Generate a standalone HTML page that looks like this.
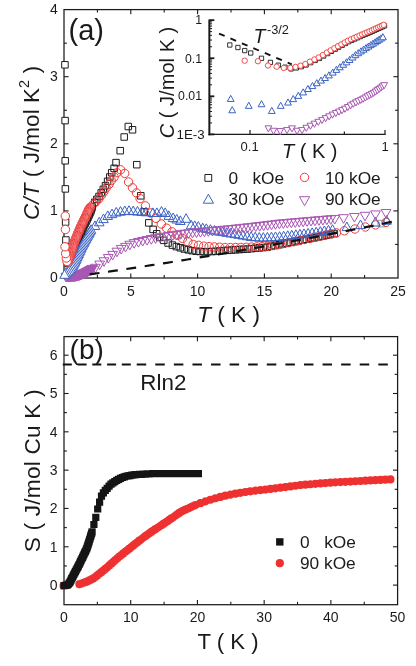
<!DOCTYPE html>
<html lang="en">
<head>
<meta charset="utf-8">
<title>Specific heat and entropy</title>
<style>
html,body{margin:0;padding:0;background:#fff;}
body{width:416px;height:666px;overflow:hidden;font-family:"Liberation Sans",Arial,sans-serif;}
svg{display:block;}
text{white-space:pre;}
</style>
</head>
<body>
<svg width="416" height="666" viewBox="0 0 416 666" font-family="'Liberation Sans', Arial, sans-serif">
<rect width="416" height="666" fill="#fff"/>
<rect x="64" y="9.6" width="334" height="268.4" fill="none" stroke="#1a1a1a" stroke-width="1.25"/>
<text x="64" y="295.5" font-size="14" text-anchor="middle" fill="#1a1a1a" >0</text>
<line x1="97.4" y1="278" x2="97.4" y2="275.1" stroke="#1a1a1a" stroke-width="1.1" />
<line x1="97.4" y1="9.6" x2="97.4" y2="12.5" stroke="#1a1a1a" stroke-width="1.1" />
<line x1="130.8" y1="278" x2="130.8" y2="273.4" stroke="#1a1a1a" stroke-width="1.1" />
<line x1="130.8" y1="9.6" x2="130.8" y2="14.2" stroke="#1a1a1a" stroke-width="1.1" />
<text x="130.8" y="295.5" font-size="14" text-anchor="middle" fill="#1a1a1a" >5</text>
<line x1="164.2" y1="278" x2="164.2" y2="275.1" stroke="#1a1a1a" stroke-width="1.1" />
<line x1="164.2" y1="9.6" x2="164.2" y2="12.5" stroke="#1a1a1a" stroke-width="1.1" />
<line x1="197.6" y1="278" x2="197.6" y2="273.4" stroke="#1a1a1a" stroke-width="1.1" />
<line x1="197.6" y1="9.6" x2="197.6" y2="14.2" stroke="#1a1a1a" stroke-width="1.1" />
<text x="197.6" y="295.5" font-size="14" text-anchor="middle" fill="#1a1a1a" >10</text>
<line x1="231" y1="278" x2="231" y2="275.1" stroke="#1a1a1a" stroke-width="1.1" />
<line x1="231" y1="9.6" x2="231" y2="12.5" stroke="#1a1a1a" stroke-width="1.1" />
<line x1="264.4" y1="278" x2="264.4" y2="273.4" stroke="#1a1a1a" stroke-width="1.1" />
<line x1="264.4" y1="9.6" x2="264.4" y2="14.2" stroke="#1a1a1a" stroke-width="1.1" />
<text x="264.4" y="295.5" font-size="14" text-anchor="middle" fill="#1a1a1a" >15</text>
<line x1="297.8" y1="278" x2="297.8" y2="275.1" stroke="#1a1a1a" stroke-width="1.1" />
<line x1="297.8" y1="9.6" x2="297.8" y2="12.5" stroke="#1a1a1a" stroke-width="1.1" />
<line x1="331.2" y1="278" x2="331.2" y2="273.4" stroke="#1a1a1a" stroke-width="1.1" />
<line x1="331.2" y1="9.6" x2="331.2" y2="14.2" stroke="#1a1a1a" stroke-width="1.1" />
<text x="331.2" y="295.5" font-size="14" text-anchor="middle" fill="#1a1a1a" >20</text>
<line x1="364.6" y1="278" x2="364.6" y2="275.1" stroke="#1a1a1a" stroke-width="1.1" />
<line x1="364.6" y1="9.6" x2="364.6" y2="12.5" stroke="#1a1a1a" stroke-width="1.1" />
<text x="398" y="295.5" font-size="14" text-anchor="middle" fill="#1a1a1a" >25</text>
<text x="57.8" y="282" font-size="14" text-anchor="end" fill="#1a1a1a" >0</text>
<line x1="64" y1="244.45" x2="66.9" y2="244.45" stroke="#1a1a1a" stroke-width="1.1" />
<line x1="398" y1="244.45" x2="395.1" y2="244.45" stroke="#1a1a1a" stroke-width="1.1" />
<line x1="64" y1="210.9" x2="68.6" y2="210.9" stroke="#1a1a1a" stroke-width="1.1" />
<line x1="398" y1="210.9" x2="393.4" y2="210.9" stroke="#1a1a1a" stroke-width="1.1" />
<text x="57.8" y="214.9" font-size="14" text-anchor="end" fill="#1a1a1a" >1</text>
<line x1="64" y1="177.35" x2="66.9" y2="177.35" stroke="#1a1a1a" stroke-width="1.1" />
<line x1="398" y1="177.35" x2="395.1" y2="177.35" stroke="#1a1a1a" stroke-width="1.1" />
<line x1="64" y1="143.8" x2="68.6" y2="143.8" stroke="#1a1a1a" stroke-width="1.1" />
<line x1="398" y1="143.8" x2="393.4" y2="143.8" stroke="#1a1a1a" stroke-width="1.1" />
<text x="57.8" y="147.8" font-size="14" text-anchor="end" fill="#1a1a1a" >2</text>
<line x1="64" y1="110.25" x2="66.9" y2="110.25" stroke="#1a1a1a" stroke-width="1.1" />
<line x1="398" y1="110.25" x2="395.1" y2="110.25" stroke="#1a1a1a" stroke-width="1.1" />
<line x1="64" y1="76.7" x2="68.6" y2="76.7" stroke="#1a1a1a" stroke-width="1.1" />
<line x1="398" y1="76.7" x2="393.4" y2="76.7" stroke="#1a1a1a" stroke-width="1.1" />
<text x="57.8" y="80.7" font-size="14" text-anchor="end" fill="#1a1a1a" >3</text>
<line x1="64" y1="43.15" x2="66.9" y2="43.15" stroke="#1a1a1a" stroke-width="1.1" />
<line x1="398" y1="43.15" x2="395.1" y2="43.15" stroke="#1a1a1a" stroke-width="1.1" />
<text x="57.8" y="13.6" font-size="14" text-anchor="end" fill="#1a1a1a" >4</text>
<line x1="209.35" y1="19.55" x2="209.35" y2="135.4" stroke="#1a1a1a" stroke-width="2.0" />
<line x1="208.35" y1="134.4" x2="385.6" y2="134.4" stroke="#1a1a1a" stroke-width="1.3" />
<line x1="209.35" y1="20.15" x2="214.35" y2="20.15" stroke="#1a1a1a" stroke-width="1.8" />
<line x1="209.35" y1="46.77" x2="212.05" y2="46.77" stroke="#1a1a1a" stroke-width="1.0" />
<line x1="209.35" y1="40.06" x2="212.05" y2="40.06" stroke="#1a1a1a" stroke-width="1.0" />
<line x1="209.35" y1="35.3" x2="212.05" y2="35.3" stroke="#1a1a1a" stroke-width="1.0" />
<line x1="209.35" y1="31.61" x2="212.05" y2="31.61" stroke="#1a1a1a" stroke-width="1.0" />
<line x1="209.35" y1="28.6" x2="212.05" y2="28.6" stroke="#1a1a1a" stroke-width="1.0" />
<line x1="209.35" y1="26.05" x2="212.05" y2="26.05" stroke="#1a1a1a" stroke-width="1.0" />
<line x1="209.35" y1="23.84" x2="212.05" y2="23.84" stroke="#1a1a1a" stroke-width="1.0" />
<line x1="209.35" y1="21.89" x2="212.05" y2="21.89" stroke="#1a1a1a" stroke-width="1.0" />
<line x1="209.35" y1="58.23" x2="214.35" y2="58.23" stroke="#1a1a1a" stroke-width="1.8" />
<line x1="209.35" y1="84.85" x2="212.05" y2="84.85" stroke="#1a1a1a" stroke-width="1.0" />
<line x1="209.35" y1="78.14" x2="212.05" y2="78.14" stroke="#1a1a1a" stroke-width="1.0" />
<line x1="209.35" y1="73.38" x2="212.05" y2="73.38" stroke="#1a1a1a" stroke-width="1.0" />
<line x1="209.35" y1="69.69" x2="212.05" y2="69.69" stroke="#1a1a1a" stroke-width="1.0" />
<line x1="209.35" y1="66.68" x2="212.05" y2="66.68" stroke="#1a1a1a" stroke-width="1.0" />
<line x1="209.35" y1="64.13" x2="212.05" y2="64.13" stroke="#1a1a1a" stroke-width="1.0" />
<line x1="209.35" y1="61.92" x2="212.05" y2="61.92" stroke="#1a1a1a" stroke-width="1.0" />
<line x1="209.35" y1="59.97" x2="212.05" y2="59.97" stroke="#1a1a1a" stroke-width="1.0" />
<line x1="209.35" y1="96.31" x2="214.35" y2="96.31" stroke="#1a1a1a" stroke-width="1.8" />
<line x1="209.35" y1="122.93" x2="212.05" y2="122.93" stroke="#1a1a1a" stroke-width="1.0" />
<line x1="209.35" y1="116.22" x2="212.05" y2="116.22" stroke="#1a1a1a" stroke-width="1.0" />
<line x1="209.35" y1="111.46" x2="212.05" y2="111.46" stroke="#1a1a1a" stroke-width="1.0" />
<line x1="209.35" y1="107.77" x2="212.05" y2="107.77" stroke="#1a1a1a" stroke-width="1.0" />
<line x1="209.35" y1="104.76" x2="212.05" y2="104.76" stroke="#1a1a1a" stroke-width="1.0" />
<line x1="209.35" y1="102.21" x2="212.05" y2="102.21" stroke="#1a1a1a" stroke-width="1.0" />
<line x1="209.35" y1="100" x2="212.05" y2="100" stroke="#1a1a1a" stroke-width="1.0" />
<line x1="209.35" y1="98.05" x2="212.05" y2="98.05" stroke="#1a1a1a" stroke-width="1.0" />
<line x1="209.35" y1="134.39" x2="214.35" y2="134.39" stroke="#1a1a1a" stroke-width="1.8" />
<line x1="250" y1="134.4" x2="250" y2="129.9" stroke="#1a1a1a" stroke-width="1.2" />
<line x1="385" y1="134.4" x2="385" y2="129.9" stroke="#1a1a1a" stroke-width="1.2" />
<line x1="344.36" y1="134.4" x2="344.36" y2="131.4" stroke="#1a1a1a" stroke-width="1.2" />
<path d="M91.45 199.05h6.5v6.5h-6.5zM93.55 196.15h6.5v6.5h-6.5zM95.75 193.25h6.5v6.5h-6.5zM97.95 189.65h6.5v6.5h-6.5zM100.05 186.05h6.5v6.5h-6.5zM102.25 182.45h6.5v6.5h-6.5zM104.35 178.05h6.5v6.5h-6.5zM106.55 173.75h6.5v6.5h-6.5zM108.45 169.45h6.5v6.5h-6.5zM110.85 165.05h6.5v6.5h-6.5zM112.75 159.35h6.5v6.5h-6.5zM116.95 147.45h6.5v6.5h-6.5zM120.95 133.75h6.5v6.5h-6.5zM125.05 123.25h6.5v6.5h-6.5zM129.25 126.55h6.5v6.5h-6.5zM133.55 161.45h6.5v6.5h-6.5zM137.55 192.55h6.5v6.5h-6.5zM141.05 208.55h6.5v6.5h-6.5zM145.55 219.65h6.5v6.5h-6.5zM149.85 226.15h6.5v6.5h-6.5zM153.45 230.55h6.5v6.5h-6.5zM156.35 234.15h6.5v6.5h-6.5zM160.55 237.1h6.5v6.5h-6.5zM164.85 239.77h6.5v6.5h-6.5zM169.15 241.83h6.5v6.5h-6.5zM173.1 243.36h6.5v6.5h-6.5zM177.05 244.54h6.5v6.5h-6.5zM181 245.72h6.5v6.5h-6.5zM184.95 246.59h6.5v6.5h-6.5zM188.9 247.38h6.5v6.5h-6.5zM192.85 248.02h6.5v6.5h-6.5zM196.8 248.25h6.5v6.5h-6.5zM200.75 248.49h6.5v6.5h-6.5zM204.7 248.43h6.5v6.5h-6.5zM208.65 248.27h6.5v6.5h-6.5zM212.6 248.08h6.5v6.5h-6.5zM216.55 247.73h6.5v6.5h-6.5zM220.5 247.39h6.5v6.5h-6.5zM224.45 247.07h6.5v6.5h-6.5zM228.4 246.81h6.5v6.5h-6.5zM232.35 246.55h6.5v6.5h-6.5zM236.3 246.29h6.5v6.5h-6.5zM240.25 246.03h6.5v6.5h-6.5zM244.2 245.77h6.5v6.5h-6.5zM248.15 245.4h6.5v6.5h-6.5zM252.1 245.04h6.5v6.5h-6.5zM256.05 244.67h6.5v6.5h-6.5zM260 244.3h6.5v6.5h-6.5zM263.95 243.91h6.5v6.5h-6.5zM267.9 243.12h6.5v6.5h-6.5zM271.85 242.33h6.5v6.5h-6.5zM275.8 241.54h6.5v6.5h-6.5zM279.75 240.75h6.5v6.5h-6.5zM283.7 239.96h6.5v6.5h-6.5zM287.65 239.17h6.5v6.5h-6.5zM291.6 238.38h6.5v6.5h-6.5zM295.55 237.59h6.5v6.5h-6.5zM299.5 236.8h6.5v6.5h-6.5zM303.45 236.01h6.5v6.5h-6.5zM307.4 235.22h6.5v6.5h-6.5zM311.35 234.41h6.5v6.5h-6.5zM315.3 233.61h6.5v6.5h-6.5zM319.25 232.8h6.5v6.5h-6.5zM323.2 232h6.5v6.5h-6.5zM327.15 231.19h6.5v6.5h-6.5zM331.1 230.39h6.5v6.5h-6.5z" fill="none" stroke="#1c1c1c" stroke-width="1.0"/>
<path d="M378.05 220.35h6.5v6.5h-6.5z" fill="none" stroke="#9a9a9a" stroke-width="1.0"/>
<path d="M89 204.4a4.2 4.2 0 1 0 8.4 0a4.2 4.2 0 1 0 -8.4 0zM91.9 201.5a4.2 4.2 0 1 0 8.4 0a4.2 4.2 0 1 0 -8.4 0zM94.8 198.6a4.2 4.2 0 1 0 8.4 0a4.2 4.2 0 1 0 -8.4 0zM97.4 195a4.2 4.2 0 1 0 8.4 0a4.2 4.2 0 1 0 -8.4 0zM99.8 191.4a4.2 4.2 0 1 0 8.4 0a4.2 4.2 0 1 0 -8.4 0zM102 187.8a4.2 4.2 0 1 0 8.4 0a4.2 4.2 0 1 0 -8.4 0zM104.9 184.2a4.2 4.2 0 1 0 8.4 0a4.2 4.2 0 1 0 -8.4 0zM107.05 180.6a4.2 4.2 0 1 0 8.4 0a4.2 4.2 0 1 0 -8.4 0zM109.9 177a4.2 4.2 0 1 0 8.4 0a4.2 4.2 0 1 0 -8.4 0zM112.8 172.7a4.2 4.2 0 1 0 8.4 0a4.2 4.2 0 1 0 -8.4 0zM116.4 169.8a4.2 4.2 0 1 0 8.4 0a4.2 4.2 0 1 0 -8.4 0zM120.5 173.4a4.2 4.2 0 1 0 8.4 0a4.2 4.2 0 1 0 -8.4 0zM124.4 182a4.2 4.2 0 1 0 8.4 0a4.2 4.2 0 1 0 -8.4 0zM128.3 187.8a4.2 4.2 0 1 0 8.4 0a4.2 4.2 0 1 0 -8.4 0zM132.3 192.9a4.2 4.2 0 1 0 8.4 0a4.2 4.2 0 1 0 -8.4 0zM135.9 198.6a4.2 4.2 0 1 0 8.4 0a4.2 4.2 0 1 0 -8.4 0zM141.2 205.87a4.2 4.2 0 1 0 8.4 0a4.2 4.2 0 1 0 -8.4 0zM146.51 212.91a4.2 4.2 0 1 0 8.4 0a4.2 4.2 0 1 0 -8.4 0zM151.81 218.31a4.2 4.2 0 1 0 8.4 0a4.2 4.2 0 1 0 -8.4 0zM157.12 224a4.2 4.2 0 1 0 8.4 0a4.2 4.2 0 1 0 -8.4 0zM162.42 228.22a4.2 4.2 0 1 0 8.4 0a4.2 4.2 0 1 0 -8.4 0zM167.73 231.88a4.2 4.2 0 1 0 8.4 0a4.2 4.2 0 1 0 -8.4 0zM173.03 235.32a4.2 4.2 0 1 0 8.4 0a4.2 4.2 0 1 0 -8.4 0zM178.34 238.44a4.2 4.2 0 1 0 8.4 0a4.2 4.2 0 1 0 -8.4 0zM183.64 241.7a4.2 4.2 0 1 0 8.4 0a4.2 4.2 0 1 0 -8.4 0zM188.95 244.42a4.2 4.2 0 1 0 8.4 0a4.2 4.2 0 1 0 -8.4 0zM194.25 245.31a4.2 4.2 0 1 0 8.4 0a4.2 4.2 0 1 0 -8.4 0zM199.56 246.19a4.2 4.2 0 1 0 8.4 0a4.2 4.2 0 1 0 -8.4 0zM204.86 246.63a4.2 4.2 0 1 0 8.4 0a4.2 4.2 0 1 0 -8.4 0zM210.17 246.92a4.2 4.2 0 1 0 8.4 0a4.2 4.2 0 1 0 -8.4 0zM215.47 247.22a4.2 4.2 0 1 0 8.4 0a4.2 4.2 0 1 0 -8.4 0zM220.78 247.51a4.2 4.2 0 1 0 8.4 0a4.2 4.2 0 1 0 -8.4 0zM226.08 247.56a4.2 4.2 0 1 0 8.4 0a4.2 4.2 0 1 0 -8.4 0zM231.39 247.5a4.2 4.2 0 1 0 8.4 0a4.2 4.2 0 1 0 -8.4 0zM236.69 247.44a4.2 4.2 0 1 0 8.4 0a4.2 4.2 0 1 0 -8.4 0zM242 247.35a4.2 4.2 0 1 0 8.4 0a4.2 4.2 0 1 0 -8.4 0zM247.3 247.1a4.2 4.2 0 1 0 8.4 0a4.2 4.2 0 1 0 -8.4 0zM252.61 246.86a4.2 4.2 0 1 0 8.4 0a4.2 4.2 0 1 0 -8.4 0zM257.91 246.62a4.2 4.2 0 1 0 8.4 0a4.2 4.2 0 1 0 -8.4 0zM263.22 246.33a4.2 4.2 0 1 0 8.4 0a4.2 4.2 0 1 0 -8.4 0zM268.52 245.41a4.2 4.2 0 1 0 8.4 0a4.2 4.2 0 1 0 -8.4 0zM273.83 244.48a4.2 4.2 0 1 0 8.4 0a4.2 4.2 0 1 0 -8.4 0zM279.13 243.56a4.2 4.2 0 1 0 8.4 0a4.2 4.2 0 1 0 -8.4 0zM284.44 242.64a4.2 4.2 0 1 0 8.4 0a4.2 4.2 0 1 0 -8.4 0zM289.74 241.61a4.2 4.2 0 1 0 8.4 0a4.2 4.2 0 1 0 -8.4 0zM295.05 240.55a4.2 4.2 0 1 0 8.4 0a4.2 4.2 0 1 0 -8.4 0zM300.35 239.49a4.2 4.2 0 1 0 8.4 0a4.2 4.2 0 1 0 -8.4 0zM305.66 238.43a4.2 4.2 0 1 0 8.4 0a4.2 4.2 0 1 0 -8.4 0zM310.96 237.31a4.2 4.2 0 1 0 8.4 0a4.2 4.2 0 1 0 -8.4 0zM316.27 236.19a4.2 4.2 0 1 0 8.4 0a4.2 4.2 0 1 0 -8.4 0zM321.57 235.07a4.2 4.2 0 1 0 8.4 0a4.2 4.2 0 1 0 -8.4 0zM326.88 233.95a4.2 4.2 0 1 0 8.4 0a4.2 4.2 0 1 0 -8.4 0zM332.18 232.83a4.2 4.2 0 1 0 8.4 0a4.2 4.2 0 1 0 -8.4 0zM340.1 230.8a4.2 4.2 0 1 0 8.4 0a4.2 4.2 0 1 0 -8.4 0zM350.7 229a4.2 4.2 0 1 0 8.4 0a4.2 4.2 0 1 0 -8.4 0zM361.2 227a4.2 4.2 0 1 0 8.4 0a4.2 4.2 0 1 0 -8.4 0zM371.3 224.9a4.2 4.2 0 1 0 8.4 0a4.2 4.2 0 1 0 -8.4 0zM381.8 222.4a4.2 4.2 0 1 0 8.4 0a4.2 4.2 0 1 0 -8.4 0z" fill="none" stroke="#ee3a3a" stroke-width="1.0"/>
<path d="M95 220.9l4.8 8.6h-9.6zM99.25 217.22l4.8 8.6h-9.6zM103.5 214.02l4.8 8.6h-9.6zM107.75 210.88l4.8 8.6h-9.6zM112 209.06l4.8 8.6h-9.6zM116.25 207.43l4.8 8.6h-9.6zM120.5 206.59l4.8 8.6h-9.6zM124.75 205.98l4.8 8.6h-9.6zM129 205.72l4.8 8.6h-9.6zM133.25 206.07l4.8 8.6h-9.6zM137.5 206.42l4.8 8.6h-9.6zM141.75 206.81l4.8 8.6h-9.6zM146 207.22l4.8 8.6h-9.6zM152.9 207.9l4.8 8.6h-9.6zM156.9 207.9l4.8 8.6h-9.6zM161.5 206.5l4.8 8.6h-9.6zM165.2 207.9l4.8 8.6h-9.6zM168.8 210.8l4.8 8.6h-9.6zM173.1 213l4.8 8.6h-9.6zM176.7 214.4l4.8 8.6h-9.6zM180.3 215.9l4.8 8.6h-9.6zM186.1 213.7l4.8 8.6h-9.6zM191.1 220.2l4.8 8.6h-9.6zM194.7 220.9l4.8 8.6h-9.6zM198.3 221.6l4.8 8.6h-9.6zM202.7 223.1l4.8 8.6h-9.6zM206.3 223.8l4.8 8.6h-9.6zM210.4 224.66l4.8 8.6h-9.6zM214.47 225.52l4.8 8.6h-9.6zM218.54 226.34l4.8 8.6h-9.6zM222.61 227.01l4.8 8.6h-9.6zM226.68 227.69l4.8 8.6h-9.6zM230.75 228.37l4.8 8.6h-9.6zM234.82 229.04l4.8 8.6h-9.6zM238.89 229.72l4.8 8.6h-9.6zM242.96 230.42l4.8 8.6h-9.6zM247.03 231.13l4.8 8.6h-9.6zM251.1 231.84l4.8 8.6h-9.6zM255.17 232.22l4.8 8.6h-9.6zM259.24 232.51l4.8 8.6h-9.6zM263.31 232.63l4.8 8.6h-9.6zM267.38 232.4l4.8 8.6h-9.6zM271.45 232.17l4.8 8.6h-9.6zM275.52 231.95l4.8 8.6h-9.6zM279.59 231.72l4.8 8.6h-9.6zM283.66 231.27l4.8 8.6h-9.6zM287.73 230.8l4.8 8.6h-9.6zM291.8 230.32l4.8 8.6h-9.6zM295.87 229.85l4.8 8.6h-9.6zM299.94 229.37l4.8 8.6h-9.6zM304.01 228.9l4.8 8.6h-9.6zM308.08 228.42l4.8 8.6h-9.6zM312.15 227.87l4.8 8.6h-9.6zM316.22 227.24l4.8 8.6h-9.6zM320.29 226.61l4.8 8.6h-9.6zM324.36 225.98l4.8 8.6h-9.6zM328.43 225.35l4.8 8.6h-9.6zM332.5 224.72l4.8 8.6h-9.6zM346.8 222l4.8 8.6h-9.6zM360.5 220l4.8 8.6h-9.6zM375.4 217.4l4.8 8.6h-9.6zM386.6 215.6l4.8 8.6h-9.6z" fill="none" stroke="#3b62c4" stroke-width="1.0" stroke-linejoin="miter"/>
<path d="M95.4 272.9l-4.9 -8.6h9.8zM99.7 269.64l-4.9 -8.6h9.8zM104 266.38l-4.9 -8.6h9.8zM108.3 263.14l-4.9 -8.6h9.8zM112.6 259.96l-4.9 -8.6h9.8zM116.9 256.79l-4.9 -8.6h9.8zM121.2 254.03l-4.9 -8.6h9.8zM125.5 251.94l-4.9 -8.6h9.8zM129.8 249.86l-4.9 -8.6h9.8zM134.1 248.22l-4.9 -8.6h9.8zM138.4 247.14l-4.9 -8.6h9.8zM142.7 246.05l-4.9 -8.6h9.8zM147 245.08l-4.9 -8.6h9.8zM151.3 244.22l-4.9 -8.6h9.8zM155.6 243.36l-4.9 -8.6h9.8zM159.9 242.53l-4.9 -8.6h9.8zM164.2 241.8l-4.9 -8.6h9.8zM168.5 241.07l-4.9 -8.6h9.8zM172.8 240.33l-4.9 -8.6h9.8zM176.75 239.82l-4.9 -8.6h9.8zM180.7 239.3l-4.9 -8.6h9.8zM184.65 238.79l-4.9 -8.6h9.8zM188.6 238.31l-4.9 -8.6h9.8zM192.55 237.91l-4.9 -8.6h9.8zM196.5 237.5l-4.9 -8.6h9.8zM200.45 237.12l-4.9 -8.6h9.8zM204.4 236.75l-4.9 -8.6h9.8zM208.35 236.38l-4.9 -8.6h9.8zM212.3 236.02l-4.9 -8.6h9.8zM216.25 235.65l-4.9 -8.6h9.8zM220.2 235.28l-4.9 -8.6h9.8zM224.15 234.89l-4.9 -8.6h9.8zM228.1 234.49l-4.9 -8.6h9.8zM232.05 234.1l-4.9 -8.6h9.8zM236 233.7l-4.9 -8.6h9.8zM239.95 233.31l-4.9 -8.6h9.8zM243.9 232.87l-4.9 -8.6h9.8zM247.85 232.44l-4.9 -8.6h9.8zM251.8 232l-4.9 -8.6h9.8zM255.75 231.57l-4.9 -8.6h9.8zM259.7 231.13l-4.9 -8.6h9.8zM263.65 230.66l-4.9 -8.6h9.8zM267.6 230.19l-4.9 -8.6h9.8zM271.55 229.71l-4.9 -8.6h9.8zM275.5 229.24l-4.9 -8.6h9.8zM279.45 228.77l-4.9 -8.6h9.8zM283.4 228.41l-4.9 -8.6h9.8zM287.35 228.06l-4.9 -8.6h9.8zM291.3 227.72l-4.9 -8.6h9.8zM295.25 227.38l-4.9 -8.6h9.8zM299.2 227.04l-4.9 -8.6h9.8zM303.15 226.69l-4.9 -8.6h9.8zM307.1 226.35l-4.9 -8.6h9.8zM311.05 226.01l-4.9 -8.6h9.8zM315 225.68l-4.9 -8.6h9.8zM318.95 225.36l-4.9 -8.6h9.8zM322.9 225.03l-4.9 -8.6h9.8zM326.85 224.7l-4.9 -8.6h9.8zM330.8 224.37l-4.9 -8.6h9.8zM334.75 224.05l-4.9 -8.6h9.8zM343.5 223.3l-4.9 -8.6h9.8zM354.4 222.1l-4.9 -8.6h9.8zM365 220.9l-4.9 -8.6h9.8zM375.5 219.5l-4.9 -8.6h9.8zM386 218.1l-4.9 -8.6h9.8z" fill="none" stroke="#a956b4" stroke-width="1.0" stroke-linejoin="miter"/>
<path d="M88.87 203.7h6.5v6.5h-6.5z" fill="#fff" stroke="#1c1c1c" stroke-width="1.0"/>
<path d="M88.36 205.22h6.5v6.5h-6.5z" fill="#fff" stroke="#1c1c1c" stroke-width="1.0"/>
<path d="M87.86 206.73h6.5v6.5h-6.5z" fill="#fff" stroke="#1c1c1c" stroke-width="1.0"/>
<path d="M87.35 208.25h6.5v6.5h-6.5z" fill="#fff" stroke="#1c1c1c" stroke-width="1.0"/>
<path d="M86.69 209.71h6.5v6.5h-6.5z" fill="#fff" stroke="#1c1c1c" stroke-width="1.0"/>
<path d="M86.03 211.17h6.5v6.5h-6.5z" fill="#fff" stroke="#1c1c1c" stroke-width="1.0"/>
<path d="M85.37 212.62h6.5v6.5h-6.5z" fill="#fff" stroke="#1c1c1c" stroke-width="1.0"/>
<path d="M84.71 214.08h6.5v6.5h-6.5z" fill="#fff" stroke="#1c1c1c" stroke-width="1.0"/>
<path d="M84.05 215.54h6.5v6.5h-6.5z" fill="#fff" stroke="#1c1c1c" stroke-width="1.0"/>
<path d="M83.35 216.98h6.5v6.5h-6.5z" fill="#fff" stroke="#1c1c1c" stroke-width="1.0"/>
<path d="M82.64 218.41h6.5v6.5h-6.5z" fill="#fff" stroke="#1c1c1c" stroke-width="1.0"/>
<path d="M81.93 219.85h6.5v6.5h-6.5z" fill="#fff" stroke="#1c1c1c" stroke-width="1.0"/>
<path d="M81.22 221.28h6.5v6.5h-6.5z" fill="#fff" stroke="#1c1c1c" stroke-width="1.0"/>
<path d="M80.51 222.72h6.5v6.5h-6.5z" fill="#fff" stroke="#1c1c1c" stroke-width="1.0"/>
<path d="M79.85 224.17h6.5v6.5h-6.5z" fill="#fff" stroke="#1c1c1c" stroke-width="1.0"/>
<path d="M79.2 225.63h6.5v6.5h-6.5z" fill="#fff" stroke="#1c1c1c" stroke-width="1.0"/>
<path d="M78.56 227.1h6.5v6.5h-6.5z" fill="#fff" stroke="#1c1c1c" stroke-width="1.0"/>
<path d="M77.91 228.56h6.5v6.5h-6.5z" fill="#fff" stroke="#1c1c1c" stroke-width="1.0"/>
<path d="M77.27 230.03h6.5v6.5h-6.5z" fill="#fff" stroke="#1c1c1c" stroke-width="1.0"/>
<path d="M76.65 231.5h6.5v6.5h-6.5z" fill="#fff" stroke="#1c1c1c" stroke-width="1.0"/>
<path d="M76.06 232.99h6.5v6.5h-6.5z" fill="#fff" stroke="#1c1c1c" stroke-width="1.0"/>
<path d="M75.46 234.47h6.5v6.5h-6.5z" fill="#fff" stroke="#1c1c1c" stroke-width="1.0"/>
<path d="M74.87 235.96h6.5v6.5h-6.5z" fill="#fff" stroke="#1c1c1c" stroke-width="1.0"/>
<path d="M74.27 237.44h6.5v6.5h-6.5z" fill="#fff" stroke="#1c1c1c" stroke-width="1.0"/>
<path d="M73.71 238.94h6.5v6.5h-6.5z" fill="#fff" stroke="#1c1c1c" stroke-width="1.0"/>
<path d="M73.19 240.45h6.5v6.5h-6.5z" fill="#fff" stroke="#1c1c1c" stroke-width="1.0"/>
<path d="M72.66 241.97h6.5v6.5h-6.5z" fill="#fff" stroke="#1c1c1c" stroke-width="1.0"/>
<path d="M72.14 243.48h6.5v6.5h-6.5z" fill="#fff" stroke="#1c1c1c" stroke-width="1.0"/>
<path d="M71.61 244.99h6.5v6.5h-6.5z" fill="#fff" stroke="#1c1c1c" stroke-width="1.0"/>
<path d="M71.12 246.51h6.5v6.5h-6.5z" fill="#fff" stroke="#1c1c1c" stroke-width="1.0"/>
<path d="M70.65 248.04h6.5v6.5h-6.5z" fill="#fff" stroke="#1c1c1c" stroke-width="1.0"/>
<path d="M70.18 249.57h6.5v6.5h-6.5z" fill="#fff" stroke="#1c1c1c" stroke-width="1.0"/>
<path d="M69.71 251.1h6.5v6.5h-6.5z" fill="#fff" stroke="#1c1c1c" stroke-width="1.0"/>
<path d="M69.24 252.63h6.5v6.5h-6.5z" fill="#fff" stroke="#1c1c1c" stroke-width="1.0"/>
<path d="M68.79 254.16h6.5v6.5h-6.5z" fill="#fff" stroke="#1c1c1c" stroke-width="1.0"/>
<path d="M68.34 255.7h6.5v6.5h-6.5z" fill="#fff" stroke="#1c1c1c" stroke-width="1.0"/>
<path d="M67.9 257.24h6.5v6.5h-6.5z" fill="#fff" stroke="#1c1c1c" stroke-width="1.0"/>
<path d="M67.23 258.68h6.5v6.5h-6.5z" fill="#fff" stroke="#1c1c1c" stroke-width="1.0"/>
<path d="M66.45 260.08h6.5v6.5h-6.5z" fill="#fff" stroke="#1c1c1c" stroke-width="1.0"/>
<path d="M64.95 260.25h6.5v6.5h-6.5z" fill="#fff" stroke="#1c1c1c" stroke-width="1.0"/>
<path d="M63.45 254.75h6.5v6.5h-6.5z" fill="#fff" stroke="#1c1c1c" stroke-width="1.0"/>
<path d="M62.95 247.75h6.5v6.5h-6.5z" fill="#fff" stroke="#1c1c1c" stroke-width="1.0"/>
<path d="M62.65 236.75h6.5v6.5h-6.5z" fill="#fff" stroke="#1c1c1c" stroke-width="1.0"/>
<path d="M62.35 218.75h6.5v6.5h-6.5z" fill="#fff" stroke="#1c1c1c" stroke-width="1.0"/>
<path d="M62.1 185.65h6.5v6.5h-6.5z" fill="#fff" stroke="#1c1c1c" stroke-width="1.0"/>
<path d="M61.95 157.55h6.5v6.5h-6.5z" fill="#fff" stroke="#1c1c1c" stroke-width="1.0"/>
<path d="M61.85 117.35h6.5v6.5h-6.5z" fill="#fff" stroke="#1c1c1c" stroke-width="1.0"/>
<path d="M61.7 61.55h6.5v6.5h-6.5z" fill="#fff" stroke="#1c1c1c" stroke-width="1.0"/>
<path d="M92.33 274l-4.9 -8.6h9.8zM91.64 274.39l-4.9 -8.6h9.8zM90.94 274.79l-4.9 -8.6h9.8zM90.25 275.19l-4.9 -8.6h9.8zM89.55 275.58l-4.9 -8.6h9.8zM88.86 275.97l-4.9 -8.6h9.8zM88.15 276.34l-4.9 -8.6h9.8zM87.44 276.71l-4.9 -8.6h9.8zM86.73 277.08l-4.9 -8.6h9.8zM86.02 277.45l-4.9 -8.6h9.8zM85.31 277.82l-4.9 -8.6h9.8zM84.6 278.19l-4.9 -8.6h9.8zM83.88 278.55l-4.9 -8.6h9.8zM83.14 278.84l-4.9 -8.6h9.8zM82.4 279.14l-4.9 -8.6h9.8zM81.65 279.44l-4.9 -8.6h9.8zM80.91 279.74l-4.9 -8.6h9.8zM80.17 280.03l-4.9 -8.6h9.8zM79.43 280.33l-4.9 -8.6h9.8zM78.67 280.58l-4.9 -8.6h9.8zM77.89 280.77l-4.9 -8.6h9.8zM77.11 280.95l-4.9 -8.6h9.8zM76.33 281.14l-4.9 -8.6h9.8zM75.56 281.32l-4.9 -8.6h9.8zM74.78 281.51l-4.9 -8.6h9.8zM73.99 281.63l-4.9 -8.6h9.8zM73.19 281.68l-4.9 -8.6h9.8zM72.39 281.74l-4.9 -8.6h9.8zM71.6 281.79l-4.9 -8.6h9.8zM70.8 281.85l-4.9 -8.6h9.8zM70 281.9l-4.9 -8.6h9.8zM69.2 281.92l-4.9 -8.6h9.8zM68.4 281.94l-4.9 -8.6h9.8zM67.6 281.96l-4.9 -8.6h9.8zM66.8 281.98l-4.9 -8.6h9.8zM66 282l-4.9 -8.6h9.8z" fill="none" stroke="#a956b4" stroke-width="1.0" stroke-linejoin="miter"/>
<path d="M91.02 224.79l4.8 8.6h-9.6z" fill="#fff" stroke="#3b62c4" stroke-width="1.0"/>
<path d="M90.17 226.26l4.8 8.6h-9.6z" fill="#fff" stroke="#3b62c4" stroke-width="1.0"/>
<path d="M89.32 227.74l4.8 8.6h-9.6z" fill="#fff" stroke="#3b62c4" stroke-width="1.0"/>
<path d="M88.49 229.22l4.8 8.6h-9.6z" fill="#fff" stroke="#3b62c4" stroke-width="1.0"/>
<path d="M87.67 230.7l4.8 8.6h-9.6z" fill="#fff" stroke="#3b62c4" stroke-width="1.0"/>
<path d="M86.84 232.19l4.8 8.6h-9.6z" fill="#fff" stroke="#3b62c4" stroke-width="1.0"/>
<path d="M86.02 233.68l4.8 8.6h-9.6z" fill="#fff" stroke="#3b62c4" stroke-width="1.0"/>
<path d="M85.2 235.17l4.8 8.6h-9.6z" fill="#fff" stroke="#3b62c4" stroke-width="1.0"/>
<path d="M84.4 236.67l4.8 8.6h-9.6z" fill="#fff" stroke="#3b62c4" stroke-width="1.0"/>
<path d="M83.63 238.18l4.8 8.6h-9.6z" fill="#fff" stroke="#3b62c4" stroke-width="1.0"/>
<path d="M82.85 239.69l4.8 8.6h-9.6z" fill="#fff" stroke="#3b62c4" stroke-width="1.0"/>
<path d="M82.07 241.21l4.8 8.6h-9.6z" fill="#fff" stroke="#3b62c4" stroke-width="1.0"/>
<path d="M81.3 242.72l4.8 8.6h-9.6z" fill="#fff" stroke="#3b62c4" stroke-width="1.0"/>
<path d="M80.58 244.26l4.8 8.6h-9.6z" fill="#fff" stroke="#3b62c4" stroke-width="1.0"/>
<path d="M79.91 245.82l4.8 8.6h-9.6z" fill="#fff" stroke="#3b62c4" stroke-width="1.0"/>
<path d="M79.24 247.38l4.8 8.6h-9.6z" fill="#fff" stroke="#3b62c4" stroke-width="1.0"/>
<path d="M78.56 248.94l4.8 8.6h-9.6z" fill="#fff" stroke="#3b62c4" stroke-width="1.0"/>
<path d="M77.89 250.5l4.8 8.6h-9.6z" fill="#fff" stroke="#3b62c4" stroke-width="1.0"/>
<path d="M77.18 252.05l4.8 8.6h-9.6z" fill="#fff" stroke="#3b62c4" stroke-width="1.0"/>
<path d="M76.47 253.59l4.8 8.6h-9.6z" fill="#fff" stroke="#3b62c4" stroke-width="1.0"/>
<path d="M75.76 255.14l4.8 8.6h-9.6z" fill="#fff" stroke="#3b62c4" stroke-width="1.0"/>
<path d="M75.05 256.68l4.8 8.6h-9.6z" fill="#fff" stroke="#3b62c4" stroke-width="1.0"/>
<path d="M74.33 258.22l4.8 8.6h-9.6z" fill="#fff" stroke="#3b62c4" stroke-width="1.0"/>
<path d="M73.48 259.69l4.8 8.6h-9.6z" fill="#fff" stroke="#3b62c4" stroke-width="1.0"/>
<path d="M72.62 261.16l4.8 8.6h-9.6z" fill="#fff" stroke="#3b62c4" stroke-width="1.0"/>
<path d="M71.72 262.6l4.8 8.6h-9.6z" fill="#fff" stroke="#3b62c4" stroke-width="1.0"/>
<path d="M70.73 263.98l4.8 8.6h-9.6z" fill="#fff" stroke="#3b62c4" stroke-width="1.0"/>
<path d="M69.74 265.36l4.8 8.6h-9.6z" fill="#fff" stroke="#3b62c4" stroke-width="1.0"/>
<path d="M68.41 266.39l4.8 8.6h-9.6z" fill="#fff" stroke="#3b62c4" stroke-width="1.0"/>
<path d="M67 267.33l4.8 8.6h-9.6z" fill="#fff" stroke="#3b62c4" stroke-width="1.0"/>
<path d="M65.66 268.38l4.8 8.6h-9.6z" fill="#fff" stroke="#3b62c4" stroke-width="1.0"/>
<path d="M64.6 269.7l4.8 8.6h-9.6z" fill="#fff" stroke="#3b62c4" stroke-width="1.0"/>
<circle cx="90.28" cy="207.17" r="4.2" fill="#fff" stroke="#ee3a3a" stroke-width="1.0"/>
<circle cx="89.84" cy="207.9" r="4.2" fill="#fff" stroke="#ee3a3a" stroke-width="1.0"/>
<circle cx="89.41" cy="208.63" r="4.2" fill="#fff" stroke="#ee3a3a" stroke-width="1.0"/>
<circle cx="88.98" cy="209.36" r="4.2" fill="#fff" stroke="#ee3a3a" stroke-width="1.0"/>
<circle cx="88.55" cy="210.1" r="4.2" fill="#fff" stroke="#ee3a3a" stroke-width="1.0"/>
<circle cx="88.2" cy="210.88" r="4.2" fill="#fff" stroke="#ee3a3a" stroke-width="1.0"/>
<circle cx="87.85" cy="211.65" r="4.2" fill="#fff" stroke="#ee3a3a" stroke-width="1.0"/>
<circle cx="87.5" cy="212.42" r="4.2" fill="#fff" stroke="#ee3a3a" stroke-width="1.0"/>
<circle cx="87.15" cy="213.2" r="4.2" fill="#fff" stroke="#ee3a3a" stroke-width="1.0"/>
<circle cx="86.8" cy="213.97" r="4.2" fill="#fff" stroke="#ee3a3a" stroke-width="1.0"/>
<circle cx="86.45" cy="214.75" r="4.2" fill="#fff" stroke="#ee3a3a" stroke-width="1.0"/>
<circle cx="86.1" cy="215.52" r="4.2" fill="#fff" stroke="#ee3a3a" stroke-width="1.0"/>
<circle cx="85.75" cy="216.29" r="4.2" fill="#fff" stroke="#ee3a3a" stroke-width="1.0"/>
<circle cx="85.4" cy="217.07" r="4.2" fill="#fff" stroke="#ee3a3a" stroke-width="1.0"/>
<circle cx="85.03" cy="217.84" r="4.2" fill="#fff" stroke="#ee3a3a" stroke-width="1.0"/>
<circle cx="84.66" cy="218.6" r="4.2" fill="#fff" stroke="#ee3a3a" stroke-width="1.0"/>
<circle cx="84.28" cy="219.36" r="4.2" fill="#fff" stroke="#ee3a3a" stroke-width="1.0"/>
<circle cx="83.91" cy="220.12" r="4.2" fill="#fff" stroke="#ee3a3a" stroke-width="1.0"/>
<circle cx="83.53" cy="220.89" r="4.2" fill="#fff" stroke="#ee3a3a" stroke-width="1.0"/>
<circle cx="83.15" cy="221.65" r="4.2" fill="#fff" stroke="#ee3a3a" stroke-width="1.0"/>
<circle cx="82.78" cy="222.41" r="4.2" fill="#fff" stroke="#ee3a3a" stroke-width="1.0"/>
<circle cx="82.4" cy="223.17" r="4.2" fill="#fff" stroke="#ee3a3a" stroke-width="1.0"/>
<circle cx="82.02" cy="223.94" r="4.2" fill="#fff" stroke="#ee3a3a" stroke-width="1.0"/>
<circle cx="81.65" cy="224.7" r="4.2" fill="#fff" stroke="#ee3a3a" stroke-width="1.0"/>
<circle cx="81.29" cy="225.47" r="4.2" fill="#fff" stroke="#ee3a3a" stroke-width="1.0"/>
<circle cx="80.95" cy="226.25" r="4.2" fill="#fff" stroke="#ee3a3a" stroke-width="1.0"/>
<circle cx="80.61" cy="227.03" r="4.2" fill="#fff" stroke="#ee3a3a" stroke-width="1.0"/>
<circle cx="80.27" cy="227.8" r="4.2" fill="#fff" stroke="#ee3a3a" stroke-width="1.0"/>
<circle cx="79.92" cy="228.58" r="4.2" fill="#fff" stroke="#ee3a3a" stroke-width="1.0"/>
<circle cx="79.58" cy="229.36" r="4.2" fill="#fff" stroke="#ee3a3a" stroke-width="1.0"/>
<circle cx="79.24" cy="230.14" r="4.2" fill="#fff" stroke="#ee3a3a" stroke-width="1.0"/>
<circle cx="78.9" cy="230.92" r="4.2" fill="#fff" stroke="#ee3a3a" stroke-width="1.0"/>
<circle cx="78.55" cy="231.69" r="4.2" fill="#fff" stroke="#ee3a3a" stroke-width="1.0"/>
<circle cx="78.21" cy="232.47" r="4.2" fill="#fff" stroke="#ee3a3a" stroke-width="1.0"/>
<circle cx="77.9" cy="233.26" r="4.2" fill="#fff" stroke="#ee3a3a" stroke-width="1.0"/>
<circle cx="77.58" cy="234.05" r="4.2" fill="#fff" stroke="#ee3a3a" stroke-width="1.0"/>
<circle cx="77.26" cy="234.84" r="4.2" fill="#fff" stroke="#ee3a3a" stroke-width="1.0"/>
<circle cx="76.95" cy="235.63" r="4.2" fill="#fff" stroke="#ee3a3a" stroke-width="1.0"/>
<circle cx="76.63" cy="236.42" r="4.2" fill="#fff" stroke="#ee3a3a" stroke-width="1.0"/>
<circle cx="76.32" cy="237.21" r="4.2" fill="#fff" stroke="#ee3a3a" stroke-width="1.0"/>
<circle cx="76" cy="238" r="4.2" fill="#fff" stroke="#ee3a3a" stroke-width="1.0"/>
<circle cx="75.69" cy="238.79" r="4.2" fill="#fff" stroke="#ee3a3a" stroke-width="1.0"/>
<circle cx="75.37" cy="239.57" r="4.2" fill="#fff" stroke="#ee3a3a" stroke-width="1.0"/>
<circle cx="75.07" cy="240.37" r="4.2" fill="#fff" stroke="#ee3a3a" stroke-width="1.0"/>
<circle cx="74.79" cy="241.17" r="4.2" fill="#fff" stroke="#ee3a3a" stroke-width="1.0"/>
<circle cx="74.51" cy="241.98" r="4.2" fill="#fff" stroke="#ee3a3a" stroke-width="1.0"/>
<circle cx="74.24" cy="242.78" r="4.2" fill="#fff" stroke="#ee3a3a" stroke-width="1.0"/>
<circle cx="73.96" cy="243.58" r="4.2" fill="#fff" stroke="#ee3a3a" stroke-width="1.0"/>
<circle cx="73.68" cy="244.39" r="4.2" fill="#fff" stroke="#ee3a3a" stroke-width="1.0"/>
<circle cx="73.4" cy="245.19" r="4.2" fill="#fff" stroke="#ee3a3a" stroke-width="1.0"/>
<circle cx="73.12" cy="245.99" r="4.2" fill="#fff" stroke="#ee3a3a" stroke-width="1.0"/>
<circle cx="72.84" cy="246.8" r="4.2" fill="#fff" stroke="#ee3a3a" stroke-width="1.0"/>
<circle cx="72.57" cy="247.6" r="4.2" fill="#fff" stroke="#ee3a3a" stroke-width="1.0"/>
<circle cx="72.32" cy="248.41" r="4.2" fill="#fff" stroke="#ee3a3a" stroke-width="1.0"/>
<circle cx="72.07" cy="249.22" r="4.2" fill="#fff" stroke="#ee3a3a" stroke-width="1.0"/>
<circle cx="71.82" cy="250.04" r="4.2" fill="#fff" stroke="#ee3a3a" stroke-width="1.0"/>
<circle cx="71.57" cy="250.85" r="4.2" fill="#fff" stroke="#ee3a3a" stroke-width="1.0"/>
<circle cx="71.32" cy="251.66" r="4.2" fill="#fff" stroke="#ee3a3a" stroke-width="1.0"/>
<circle cx="71.07" cy="252.48" r="4.2" fill="#fff" stroke="#ee3a3a" stroke-width="1.0"/>
<circle cx="70.82" cy="253.29" r="4.2" fill="#fff" stroke="#ee3a3a" stroke-width="1.0"/>
<circle cx="70.58" cy="254.1" r="4.2" fill="#fff" stroke="#ee3a3a" stroke-width="1.0"/>
<circle cx="70.33" cy="254.91" r="4.2" fill="#fff" stroke="#ee3a3a" stroke-width="1.0"/>
<circle cx="70.08" cy="255.73" r="4.2" fill="#fff" stroke="#ee3a3a" stroke-width="1.0"/>
<circle cx="69.82" cy="256.54" r="4.2" fill="#fff" stroke="#ee3a3a" stroke-width="1.0"/>
<circle cx="69.57" cy="257.35" r="4.2" fill="#fff" stroke="#ee3a3a" stroke-width="1.0"/>
<circle cx="69.32" cy="258.16" r="4.2" fill="#fff" stroke="#ee3a3a" stroke-width="1.0"/>
<circle cx="69.07" cy="258.97" r="4.2" fill="#fff" stroke="#ee3a3a" stroke-width="1.0"/>
<circle cx="68.82" cy="259.79" r="4.2" fill="#fff" stroke="#ee3a3a" stroke-width="1.0"/>
<circle cx="68.54" cy="260.59" r="4.2" fill="#fff" stroke="#ee3a3a" stroke-width="1.0"/>
<circle cx="68.07" cy="261.29" r="4.2" fill="#fff" stroke="#ee3a3a" stroke-width="1.0"/>
<circle cx="67.6" cy="262" r="4.2" fill="#fff" stroke="#ee3a3a" stroke-width="1.0"/>
<circle cx="67" cy="261.5" r="4.2" fill="#fff" stroke="#ee3a3a" stroke-width="1.0"/>
<circle cx="66.3" cy="258" r="4.2" fill="#fff" stroke="#ee3a3a" stroke-width="1.0"/>
<circle cx="65.6" cy="253.6" r="4.2" fill="#fff" stroke="#ee3a3a" stroke-width="1.0"/>
<circle cx="65" cy="246.8" r="4.2" fill="#fff" stroke="#ee3a3a" stroke-width="1.0"/>
<circle cx="65.4" cy="229.5" r="4.2" fill="#fff" stroke="#ee3a3a" stroke-width="1.0"/>
<circle cx="65.3" cy="216" r="4.2" fill="#fff" stroke="#ee3a3a" stroke-width="1.0"/>
<path d="M89.65 274.42 L94.79 273.68 L99.93 272.94 L105.07 272.19 L110.21 271.44 L115.35 270.68 L120.49 269.91 L125.63 269.14 L130.77 268.37 L135.91 267.59 L141.05 266.8 L146.19 266.01 L151.33 265.21 L156.47 264.41 L161.61 263.6 L166.75 262.79 L171.89 261.97 L177.03 261.14 L182.17 260.31 L187.32 259.48 L192.46 258.64 L197.6 257.79 L202.74 256.94 L207.88 256.08 L213.02 255.22 L218.16 254.35 L223.3 253.48 L228.44 252.6 L233.58 251.72 L238.72 250.83 L243.86 249.93 L249 249.03 L254.14 248.13 L259.28 247.22 L264.42 246.3 L269.56 245.38 L274.7 244.45 L279.84 243.52 L284.98 242.58 L290.12 241.64 L295.26 240.69 L300.4 239.73 L305.54 238.77 L310.68 237.81 L315.82 236.84 L320.96 235.86 L326.1 234.88 L331.24 233.89 L336.38 232.9 L341.52 231.9 L346.66 230.9 L351.8 229.89 L356.94 228.88 L362.08 227.86 L367.22 226.83 L372.36 225.8 L377.5 224.77 L382.64 223.73 L387.78 222.68 L392.92 221.63" fill="none" stroke="#111" stroke-width="2.2" stroke-dasharray="9.9 8.65"/>
<path d="M227.65 42.85h4.3v4.3h-4.3z" fill="#fff" stroke="#1c1c1c" stroke-width="0.9"/>
<path d="M235.75 45.35h4.3v4.3h-4.3z" fill="#fff" stroke="#1c1c1c" stroke-width="0.9"/>
<path d="M242.55 48.45h4.3v4.3h-4.3z" fill="#fff" stroke="#1c1c1c" stroke-width="0.9"/>
<path d="M248.55 50.85h4.3v4.3h-4.3z" fill="#fff" stroke="#1c1c1c" stroke-width="0.9"/>
<path d="M259.35 56.15h4.3v4.3h-4.3z" fill="#fff" stroke="#1c1c1c" stroke-width="0.9"/>
<path d="M268.25 60.25h4.3v4.3h-4.3z" fill="#fff" stroke="#1c1c1c" stroke-width="0.9"/>
<path d="M276.15 63.05h4.3v4.3h-4.3z" fill="#fff" stroke="#1c1c1c" stroke-width="0.9"/>
<path d="M282.85 65.05h4.3v4.3h-4.3z" fill="#fff" stroke="#1c1c1c" stroke-width="0.9"/>
<path d="M288.95 66.75h4.3v4.3h-4.3z" fill="#fff" stroke="#1c1c1c" stroke-width="0.9"/>
<path d="M294.14 65.77h4.3v4.3h-4.3z" fill="#fff" stroke="#1c1c1c" stroke-width="0.9"/>
<path d="M299.14 64.55h4.3v4.3h-4.3z" fill="#fff" stroke="#1c1c1c" stroke-width="0.9"/>
<path d="M303.95 62.87h4.3v4.3h-4.3z" fill="#fff" stroke="#1c1c1c" stroke-width="0.9"/>
<path d="M308.59 60.51h4.3v4.3h-4.3z" fill="#fff" stroke="#1c1c1c" stroke-width="0.9"/>
<path d="M313.05 58.29h4.3v4.3h-4.3z" fill="#fff" stroke="#1c1c1c" stroke-width="0.9"/>
<path d="M317.35 56.28h4.3v4.3h-4.3z" fill="#fff" stroke="#1c1c1c" stroke-width="0.9"/>
<path d="M321.5 53.86h4.3v4.3h-4.3z" fill="#fff" stroke="#1c1c1c" stroke-width="0.9"/>
<path d="M325.49 51.43h4.3v4.3h-4.3z" fill="#fff" stroke="#1c1c1c" stroke-width="0.9"/>
<path d="M329.33 49.21h4.3v4.3h-4.3z" fill="#fff" stroke="#1c1c1c" stroke-width="0.9"/>
<path d="M333.03 47.08h4.3v4.3h-4.3z" fill="#fff" stroke="#1c1c1c" stroke-width="0.9"/>
<path d="M336.59 45.03h4.3v4.3h-4.3z" fill="#fff" stroke="#1c1c1c" stroke-width="0.9"/>
<path d="M340.03 43.15h4.3v4.3h-4.3z" fill="#fff" stroke="#1c1c1c" stroke-width="0.9"/>
<path d="M343.34 41.34h4.3v4.3h-4.3z" fill="#fff" stroke="#1c1c1c" stroke-width="0.9"/>
<path d="M346.52 39.59h4.3v4.3h-4.3z" fill="#fff" stroke="#1c1c1c" stroke-width="0.9"/>
<path d="M349.59 38.17h4.3v4.3h-4.3z" fill="#fff" stroke="#1c1c1c" stroke-width="0.9"/>
<path d="M352.54 36.86h4.3v4.3h-4.3z" fill="#fff" stroke="#1c1c1c" stroke-width="0.9"/>
<path d="M355.39 35.6h4.3v4.3h-4.3z" fill="#fff" stroke="#1c1c1c" stroke-width="0.9"/>
<path d="M358.13 34.39h4.3v4.3h-4.3z" fill="#fff" stroke="#1c1c1c" stroke-width="0.9"/>
<path d="M360.77 33.27h4.3v4.3h-4.3z" fill="#fff" stroke="#1c1c1c" stroke-width="0.9"/>
<path d="M363.31 32.19h4.3v4.3h-4.3z" fill="#fff" stroke="#1c1c1c" stroke-width="0.9"/>
<path d="M365.76 31.15h4.3v4.3h-4.3z" fill="#fff" stroke="#1c1c1c" stroke-width="0.9"/>
<path d="M368.12 30.15h4.3v4.3h-4.3z" fill="#fff" stroke="#1c1c1c" stroke-width="0.9"/>
<path d="M370.39 29.12h4.3v4.3h-4.3z" fill="#fff" stroke="#1c1c1c" stroke-width="0.9"/>
<path d="M372.58 28.12h4.3v4.3h-4.3z" fill="#fff" stroke="#1c1c1c" stroke-width="0.9"/>
<path d="M374.69 27.16h4.3v4.3h-4.3z" fill="#fff" stroke="#1c1c1c" stroke-width="0.9"/>
<path d="M376.72 26.24h4.3v4.3h-4.3z" fill="#fff" stroke="#1c1c1c" stroke-width="0.9"/>
<path d="M378.68 25.35h4.3v4.3h-4.3z" fill="#fff" stroke="#1c1c1c" stroke-width="0.9"/>
<path d="M380.56 24.49h4.3v4.3h-4.3z" fill="#fff" stroke="#1c1c1c" stroke-width="0.9"/>
<path d="M382.37 23.67h4.3v4.3h-4.3z" fill="#fff" stroke="#1c1c1c" stroke-width="0.9"/>
<path d="M268.4 131.95l-3.4 -6.1h6.8z" fill="#fff" stroke="#a956b4" stroke-width="1.0"/>
<path d="M273.5 134.35l-3.4 -6.1h6.8z" fill="#fff" stroke="#a956b4" stroke-width="1.0"/>
<path d="M280.2 134.65l-3.4 -6.1h6.8z" fill="#fff" stroke="#a956b4" stroke-width="1.0"/>
<path d="M287 133.65l-3.4 -6.1h6.8z" fill="#fff" stroke="#a956b4" stroke-width="1.0"/>
<path d="M292 131.95l-3.4 -6.1h6.8z" fill="#fff" stroke="#a956b4" stroke-width="1.0"/>
<path d="M297 134.35l-3.4 -6.1h6.8z" fill="#fff" stroke="#a956b4" stroke-width="1.0"/>
<path d="M302 133.65l-3.4 -6.1h6.8z" fill="#fff" stroke="#a956b4" stroke-width="1.0"/>
<path d="M306.28 131.38l-3.4 -6.1h6.8z" fill="#fff" stroke="#a956b4" stroke-width="1.0"/>
<path d="M310.42 129.29l-3.4 -6.1h6.8z" fill="#fff" stroke="#a956b4" stroke-width="1.0"/>
<path d="M314.43 127.29l-3.4 -6.1h6.8z" fill="#fff" stroke="#a956b4" stroke-width="1.0"/>
<path d="M318.3 125.39l-3.4 -6.1h6.8z" fill="#fff" stroke="#a956b4" stroke-width="1.0"/>
<path d="M322.04 123.52l-3.4 -6.1h6.8z" fill="#fff" stroke="#a956b4" stroke-width="1.0"/>
<path d="M325.65 121.68l-3.4 -6.1h6.8z" fill="#fff" stroke="#a956b4" stroke-width="1.0"/>
<path d="M329.15 119.91l-3.4 -6.1h6.8z" fill="#fff" stroke="#a956b4" stroke-width="1.0"/>
<path d="M332.53 118.19l-3.4 -6.1h6.8z" fill="#fff" stroke="#a956b4" stroke-width="1.0"/>
<path d="M335.8 116.62l-3.4 -6.1h6.8z" fill="#fff" stroke="#a956b4" stroke-width="1.0"/>
<path d="M338.97 115.16l-3.4 -6.1h6.8z" fill="#fff" stroke="#a956b4" stroke-width="1.0"/>
<path d="M342.02 113.75l-3.4 -6.1h6.8z" fill="#fff" stroke="#a956b4" stroke-width="1.0"/>
<path d="M344.98 112.29l-3.4 -6.1h6.8z" fill="#fff" stroke="#a956b4" stroke-width="1.0"/>
<path d="M347.83 110.59l-3.4 -6.1h6.8z" fill="#fff" stroke="#a956b4" stroke-width="1.0"/>
<path d="M350.6 108.95l-3.4 -6.1h6.8z" fill="#fff" stroke="#a956b4" stroke-width="1.0"/>
<path d="M353.27 107.36l-3.4 -6.1h6.8z" fill="#fff" stroke="#a956b4" stroke-width="1.0"/>
<path d="M355.85 105.97l-3.4 -6.1h6.8z" fill="#fff" stroke="#a956b4" stroke-width="1.0"/>
<path d="M358.35 104.71l-3.4 -6.1h6.8z" fill="#fff" stroke="#a956b4" stroke-width="1.0"/>
<path d="M360.76 103.49l-3.4 -6.1h6.8z" fill="#fff" stroke="#a956b4" stroke-width="1.0"/>
<path d="M363.09 102.31l-3.4 -6.1h6.8z" fill="#fff" stroke="#a956b4" stroke-width="1.0"/>
<path d="M365.35 101.11l-3.4 -6.1h6.8z" fill="#fff" stroke="#a956b4" stroke-width="1.0"/>
<path d="M367.53 99.88l-3.4 -6.1h6.8z" fill="#fff" stroke="#a956b4" stroke-width="1.0"/>
<path d="M369.64 98.69l-3.4 -6.1h6.8z" fill="#fff" stroke="#a956b4" stroke-width="1.0"/>
<path d="M371.68 97.54l-3.4 -6.1h6.8z" fill="#fff" stroke="#a956b4" stroke-width="1.0"/>
<path d="M373.65 96.43l-3.4 -6.1h6.8z" fill="#fff" stroke="#a956b4" stroke-width="1.0"/>
<path d="M375.56 95.16l-3.4 -6.1h6.8z" fill="#fff" stroke="#a956b4" stroke-width="1.0"/>
<path d="M377.4 93.8l-3.4 -6.1h6.8z" fill="#fff" stroke="#a956b4" stroke-width="1.0"/>
<path d="M379.18 92.47l-3.4 -6.1h6.8z" fill="#fff" stroke="#a956b4" stroke-width="1.0"/>
<path d="M380.91 91.19l-3.4 -6.1h6.8z" fill="#fff" stroke="#a956b4" stroke-width="1.0"/>
<path d="M382.57 89.96l-3.4 -6.1h6.8z" fill="#fff" stroke="#a956b4" stroke-width="1.0"/>
<path d="M384.18 88.76l-3.4 -6.1h6.8z" fill="#fff" stroke="#a956b4" stroke-width="1.0"/>
<path d="M230.7 95.35l3.4 6.1h-6.8z" fill="#fff" stroke="#3b62c4" stroke-width="1.0"/>
<path d="M232.2 106.65l3.4 6.1h-6.8z" fill="#fff" stroke="#3b62c4" stroke-width="1.0"/>
<path d="M248.75 102.25l3.4 6.1h-6.8z" fill="#fff" stroke="#3b62c4" stroke-width="1.0"/>
<path d="M261.5 100.65l3.4 6.1h-6.8z" fill="#fff" stroke="#3b62c4" stroke-width="1.0"/>
<path d="M271.8 107.35l3.4 6.1h-6.8z" fill="#fff" stroke="#3b62c4" stroke-width="1.0"/>
<path d="M280.7 102.25l3.4 6.1h-6.8z" fill="#fff" stroke="#3b62c4" stroke-width="1.0"/>
<path d="M288 98.95l3.4 6.1h-6.8z" fill="#fff" stroke="#3b62c4" stroke-width="1.0"/>
<path d="M293.2 95.54l3.4 6.1h-6.8z" fill="#fff" stroke="#3b62c4" stroke-width="1.0"/>
<path d="M298.28 92.29l3.4 6.1h-6.8z" fill="#fff" stroke="#3b62c4" stroke-width="1.0"/>
<path d="M303.18 88.84l3.4 6.1h-6.8z" fill="#fff" stroke="#3b62c4" stroke-width="1.0"/>
<path d="M307.89 85.45l3.4 6.1h-6.8z" fill="#fff" stroke="#3b62c4" stroke-width="1.0"/>
<path d="M312.43 82.48l3.4 6.1h-6.8z" fill="#fff" stroke="#3b62c4" stroke-width="1.0"/>
<path d="M316.81 79.63l3.4 6.1h-6.8z" fill="#fff" stroke="#3b62c4" stroke-width="1.0"/>
<path d="M321.02 76.99l3.4 6.1h-6.8z" fill="#fff" stroke="#3b62c4" stroke-width="1.0"/>
<path d="M325.08 74.45l3.4 6.1h-6.8z" fill="#fff" stroke="#3b62c4" stroke-width="1.0"/>
<path d="M328.98 71.8l3.4 6.1h-6.8z" fill="#fff" stroke="#3b62c4" stroke-width="1.0"/>
<path d="M332.75 68.99l3.4 6.1h-6.8z" fill="#fff" stroke="#3b62c4" stroke-width="1.0"/>
<path d="M336.37 66.29l3.4 6.1h-6.8z" fill="#fff" stroke="#3b62c4" stroke-width="1.0"/>
<path d="M339.86 63.69l3.4 6.1h-6.8z" fill="#fff" stroke="#3b62c4" stroke-width="1.0"/>
<path d="M343.23 61.18l3.4 6.1h-6.8z" fill="#fff" stroke="#3b62c4" stroke-width="1.0"/>
<path d="M346.47 58.77l3.4 6.1h-6.8z" fill="#fff" stroke="#3b62c4" stroke-width="1.0"/>
<path d="M349.59 56.37l3.4 6.1h-6.8z" fill="#fff" stroke="#3b62c4" stroke-width="1.0"/>
<path d="M352.59 53.94l3.4 6.1h-6.8z" fill="#fff" stroke="#3b62c4" stroke-width="1.0"/>
<path d="M355.48 51.59l3.4 6.1h-6.8z" fill="#fff" stroke="#3b62c4" stroke-width="1.0"/>
<path d="M358.27 49.61l3.4 6.1h-6.8z" fill="#fff" stroke="#3b62c4" stroke-width="1.0"/>
<path d="M360.96 47.83l3.4 6.1h-6.8z" fill="#fff" stroke="#3b62c4" stroke-width="1.0"/>
<path d="M363.54 46.12l3.4 6.1h-6.8z" fill="#fff" stroke="#3b62c4" stroke-width="1.0"/>
<path d="M366.03 44.52l3.4 6.1h-6.8z" fill="#fff" stroke="#3b62c4" stroke-width="1.0"/>
<path d="M368.43 43l3.4 6.1h-6.8z" fill="#fff" stroke="#3b62c4" stroke-width="1.0"/>
<path d="M370.74 41.54l3.4 6.1h-6.8z" fill="#fff" stroke="#3b62c4" stroke-width="1.0"/>
<path d="M372.97 40.13l3.4 6.1h-6.8z" fill="#fff" stroke="#3b62c4" stroke-width="1.0"/>
<path d="M375.11 38.78l3.4 6.1h-6.8z" fill="#fff" stroke="#3b62c4" stroke-width="1.0"/>
<path d="M377.17 37.43l3.4 6.1h-6.8z" fill="#fff" stroke="#3b62c4" stroke-width="1.0"/>
<path d="M379.16 36.13l3.4 6.1h-6.8z" fill="#fff" stroke="#3b62c4" stroke-width="1.0"/>
<path d="M381.08 34.89l3.4 6.1h-6.8z" fill="#fff" stroke="#3b62c4" stroke-width="1.0"/>
<path d="M382.92 33.68l3.4 6.1h-6.8z" fill="#fff" stroke="#3b62c4" stroke-width="1.0"/>
<circle cx="244.7" cy="60.7" r="2.7" fill="#fff" stroke="#ee3a3a" stroke-width="0.9"/>
<circle cx="257.9" cy="61.2" r="2.7" fill="#fff" stroke="#ee3a3a" stroke-width="0.9"/>
<circle cx="268" cy="65.5" r="2.7" fill="#fff" stroke="#ee3a3a" stroke-width="0.9"/>
<circle cx="276.6" cy="66.7" r="2.7" fill="#fff" stroke="#ee3a3a" stroke-width="0.9"/>
<circle cx="283.8" cy="67.9" r="2.7" fill="#fff" stroke="#ee3a3a" stroke-width="0.9"/>
<circle cx="290.3" cy="67.9" r="2.7" fill="#fff" stroke="#ee3a3a" stroke-width="0.9"/>
<circle cx="295.49" cy="66.92" r="2.7" fill="#fff" stroke="#ee3a3a" stroke-width="0.9"/>
<circle cx="300.49" cy="65.7" r="2.7" fill="#fff" stroke="#ee3a3a" stroke-width="0.9"/>
<circle cx="305.3" cy="64.02" r="2.7" fill="#fff" stroke="#ee3a3a" stroke-width="0.9"/>
<circle cx="309.94" cy="61.66" r="2.7" fill="#fff" stroke="#ee3a3a" stroke-width="0.9"/>
<circle cx="314.4" cy="59.44" r="2.7" fill="#fff" stroke="#ee3a3a" stroke-width="0.9"/>
<circle cx="318.7" cy="57.43" r="2.7" fill="#fff" stroke="#ee3a3a" stroke-width="0.9"/>
<circle cx="322.85" cy="55.01" r="2.7" fill="#fff" stroke="#ee3a3a" stroke-width="0.9"/>
<circle cx="326.84" cy="52.58" r="2.7" fill="#fff" stroke="#ee3a3a" stroke-width="0.9"/>
<circle cx="330.68" cy="50.36" r="2.7" fill="#fff" stroke="#ee3a3a" stroke-width="0.9"/>
<circle cx="334.38" cy="48.23" r="2.7" fill="#fff" stroke="#ee3a3a" stroke-width="0.9"/>
<circle cx="337.94" cy="46.18" r="2.7" fill="#fff" stroke="#ee3a3a" stroke-width="0.9"/>
<circle cx="341.38" cy="44.3" r="2.7" fill="#fff" stroke="#ee3a3a" stroke-width="0.9"/>
<circle cx="344.69" cy="42.49" r="2.7" fill="#fff" stroke="#ee3a3a" stroke-width="0.9"/>
<circle cx="347.87" cy="40.74" r="2.7" fill="#fff" stroke="#ee3a3a" stroke-width="0.9"/>
<circle cx="350.94" cy="39.32" r="2.7" fill="#fff" stroke="#ee3a3a" stroke-width="0.9"/>
<circle cx="353.89" cy="38.01" r="2.7" fill="#fff" stroke="#ee3a3a" stroke-width="0.9"/>
<circle cx="356.74" cy="36.75" r="2.7" fill="#fff" stroke="#ee3a3a" stroke-width="0.9"/>
<circle cx="359.48" cy="35.54" r="2.7" fill="#fff" stroke="#ee3a3a" stroke-width="0.9"/>
<circle cx="362.12" cy="34.42" r="2.7" fill="#fff" stroke="#ee3a3a" stroke-width="0.9"/>
<circle cx="364.66" cy="33.34" r="2.7" fill="#fff" stroke="#ee3a3a" stroke-width="0.9"/>
<circle cx="367.11" cy="32.3" r="2.7" fill="#fff" stroke="#ee3a3a" stroke-width="0.9"/>
<circle cx="369.47" cy="31.3" r="2.7" fill="#fff" stroke="#ee3a3a" stroke-width="0.9"/>
<circle cx="371.74" cy="30.27" r="2.7" fill="#fff" stroke="#ee3a3a" stroke-width="0.9"/>
<circle cx="373.93" cy="29.27" r="2.7" fill="#fff" stroke="#ee3a3a" stroke-width="0.9"/>
<circle cx="376.04" cy="28.31" r="2.7" fill="#fff" stroke="#ee3a3a" stroke-width="0.9"/>
<circle cx="378.07" cy="27.39" r="2.7" fill="#fff" stroke="#ee3a3a" stroke-width="0.9"/>
<circle cx="380.03" cy="26.5" r="2.7" fill="#fff" stroke="#ee3a3a" stroke-width="0.9"/>
<circle cx="381.91" cy="25.64" r="2.7" fill="#fff" stroke="#ee3a3a" stroke-width="0.9"/>
<circle cx="383.72" cy="24.82" r="2.7" fill="#fff" stroke="#ee3a3a" stroke-width="0.9"/>
<line x1="219" y1="33.6" x2="291.8" y2="64.4" stroke="#111" stroke-width="1.85" stroke-dasharray="6.1 6.33"/>
<text x="68.5" y="39.7" font-size="29" text-anchor="start" fill="#1a1a1a" >(a)</text>
<text transform="translate(39,219.9) rotate(-90)" font-size="22.4" fill="#1a1a1a" textLength="154" lengthAdjust="spacing"><tspan font-style="italic">C/T</tspan> ( J/mol K<tspan font-size="14.5" dy="-10.5">2</tspan><tspan dy="10.5"> )</tspan></text>
<text x="197.2" y="321.8" font-size="22.6" fill="#1a1a1a"><tspan font-style="italic">T</tspan> ( K )</text>
<path d="M204.9 174.5h6.8v6.8h-6.8z" fill="none" stroke="#1c1c1c" stroke-width="1.0"/>
<path d="M208.4 194.2l5.1 9h-10.2z" fill="none" stroke="#3b62c4" stroke-width="1.0" stroke-linejoin="miter"/>
<path d="M300.35 177.4a4.2 4.2 0 1 0 8.4 0a4.2 4.2 0 1 0 -8.4 0z" fill="none" stroke="#ee3a3a" stroke-width="1.0"/>
<path d="M304.55 205.7l-5.1 -9h10.2z" fill="none" stroke="#a956b4" stroke-width="1.0" stroke-linejoin="miter"/>
<text x="228.6" y="184" font-size="17.3" text-anchor="start" fill="#1a1a1a" >0</text>
<text x="252.4" y="184" font-size="17.3" text-anchor="start" fill="#1a1a1a" >kOe</text>
<text x="228.6" y="205.2" font-size="17.3" text-anchor="start" fill="#1a1a1a" >30 kOe</text>
<text x="325" y="184" font-size="17.3" text-anchor="start" fill="#1a1a1a" >10 kOe</text>
<text x="325" y="205.2" font-size="17.3" text-anchor="start" fill="#1a1a1a" >90 kOe</text>
<text x="202" y="24" font-size="12.3" text-anchor="end" fill="#1a1a1a" >1</text>
<text x="202" y="62.6" font-size="12.3" text-anchor="end" fill="#1a1a1a" >0.1</text>
<text x="202" y="100.3" font-size="12.3" text-anchor="end" fill="#1a1a1a" >0.01</text>
<text x="204.6" y="138.8" font-size="13.3" text-anchor="end" fill="#1a1a1a" >1E-3</text>
<text x="249.6" y="151.2" font-size="13" text-anchor="middle" fill="#1a1a1a" >0.1</text>
<text x="385.2" y="150.6" font-size="13" text-anchor="middle" fill="#1a1a1a" >1</text>
<text transform="translate(173.8,138.3) rotate(-90)" font-size="20" fill="#1a1a1a" textLength="111.6" lengthAdjust="spacing"><tspan font-style="italic">C</tspan> ( J/mol K )</text>
<text x="281.9" y="157.6" font-size="20" fill="#1a1a1a"><tspan font-style="italic">T</tspan> ( K )</text>
<text x="253.6" y="42.5" font-size="19.5" fill="#1a1a1a"><tspan font-style="italic">T</tspan><tspan font-size="12.8" dy="-8.6" dx="1.4">-3/2</tspan></text>
<rect x="64" y="336.6" width="333.6" height="268.1" fill="none" stroke="#1a1a1a" stroke-width="1.25"/>
<text x="64" y="622" font-size="14" text-anchor="middle" fill="#1a1a1a" >0</text>
<line x1="97.36" y1="604.7" x2="97.36" y2="601.8" stroke="#1a1a1a" stroke-width="1.1" />
<line x1="97.36" y1="336.6" x2="97.36" y2="339.5" stroke="#1a1a1a" stroke-width="1.1" />
<line x1="130.72" y1="604.7" x2="130.72" y2="600.1" stroke="#1a1a1a" stroke-width="1.1" />
<line x1="130.72" y1="336.6" x2="130.72" y2="341.2" stroke="#1a1a1a" stroke-width="1.1" />
<text x="130.72" y="622" font-size="14" text-anchor="middle" fill="#1a1a1a" >10</text>
<line x1="164.08" y1="604.7" x2="164.08" y2="601.8" stroke="#1a1a1a" stroke-width="1.1" />
<line x1="164.08" y1="336.6" x2="164.08" y2="339.5" stroke="#1a1a1a" stroke-width="1.1" />
<line x1="197.44" y1="604.7" x2="197.44" y2="600.1" stroke="#1a1a1a" stroke-width="1.1" />
<line x1="197.44" y1="336.6" x2="197.44" y2="341.2" stroke="#1a1a1a" stroke-width="1.1" />
<text x="197.44" y="622" font-size="14" text-anchor="middle" fill="#1a1a1a" >20</text>
<line x1="230.8" y1="604.7" x2="230.8" y2="601.8" stroke="#1a1a1a" stroke-width="1.1" />
<line x1="230.8" y1="336.6" x2="230.8" y2="339.5" stroke="#1a1a1a" stroke-width="1.1" />
<line x1="264.16" y1="604.7" x2="264.16" y2="600.1" stroke="#1a1a1a" stroke-width="1.1" />
<line x1="264.16" y1="336.6" x2="264.16" y2="341.2" stroke="#1a1a1a" stroke-width="1.1" />
<text x="264.16" y="622" font-size="14" text-anchor="middle" fill="#1a1a1a" >30</text>
<line x1="297.52" y1="604.7" x2="297.52" y2="601.8" stroke="#1a1a1a" stroke-width="1.1" />
<line x1="297.52" y1="336.6" x2="297.52" y2="339.5" stroke="#1a1a1a" stroke-width="1.1" />
<line x1="330.88" y1="604.7" x2="330.88" y2="600.1" stroke="#1a1a1a" stroke-width="1.1" />
<line x1="330.88" y1="336.6" x2="330.88" y2="341.2" stroke="#1a1a1a" stroke-width="1.1" />
<text x="330.88" y="622" font-size="14" text-anchor="middle" fill="#1a1a1a" >40</text>
<line x1="364.24" y1="604.7" x2="364.24" y2="601.8" stroke="#1a1a1a" stroke-width="1.1" />
<line x1="364.24" y1="336.6" x2="364.24" y2="339.5" stroke="#1a1a1a" stroke-width="1.1" />
<text x="397.6" y="622" font-size="14" text-anchor="middle" fill="#1a1a1a" >50</text>
<line x1="64" y1="585.1" x2="68.6" y2="585.1" stroke="#1a1a1a" stroke-width="1.1" />
<line x1="397.6" y1="585.1" x2="393" y2="585.1" stroke="#1a1a1a" stroke-width="1.1" />
<text x="57.6" y="590" font-size="14" text-anchor="end" fill="#1a1a1a" >0</text>
<line x1="64" y1="565.94" x2="66.9" y2="565.94" stroke="#1a1a1a" stroke-width="1.1" />
<line x1="397.6" y1="565.94" x2="394.7" y2="565.94" stroke="#1a1a1a" stroke-width="1.1" />
<line x1="64" y1="546.78" x2="68.6" y2="546.78" stroke="#1a1a1a" stroke-width="1.1" />
<line x1="397.6" y1="546.78" x2="393" y2="546.78" stroke="#1a1a1a" stroke-width="1.1" />
<text x="57.6" y="551.68" font-size="14" text-anchor="end" fill="#1a1a1a" >1</text>
<line x1="64" y1="527.62" x2="66.9" y2="527.62" stroke="#1a1a1a" stroke-width="1.1" />
<line x1="397.6" y1="527.62" x2="394.7" y2="527.62" stroke="#1a1a1a" stroke-width="1.1" />
<line x1="64" y1="508.46" x2="68.6" y2="508.46" stroke="#1a1a1a" stroke-width="1.1" />
<line x1="397.6" y1="508.46" x2="393" y2="508.46" stroke="#1a1a1a" stroke-width="1.1" />
<text x="57.6" y="513.36" font-size="14" text-anchor="end" fill="#1a1a1a" >2</text>
<line x1="64" y1="489.3" x2="66.9" y2="489.3" stroke="#1a1a1a" stroke-width="1.1" />
<line x1="397.6" y1="489.3" x2="394.7" y2="489.3" stroke="#1a1a1a" stroke-width="1.1" />
<line x1="64" y1="470.14" x2="68.6" y2="470.14" stroke="#1a1a1a" stroke-width="1.1" />
<line x1="397.6" y1="470.14" x2="393" y2="470.14" stroke="#1a1a1a" stroke-width="1.1" />
<text x="57.6" y="475.04" font-size="14" text-anchor="end" fill="#1a1a1a" >3</text>
<line x1="64" y1="450.98" x2="66.9" y2="450.98" stroke="#1a1a1a" stroke-width="1.1" />
<line x1="397.6" y1="450.98" x2="394.7" y2="450.98" stroke="#1a1a1a" stroke-width="1.1" />
<line x1="64" y1="431.82" x2="68.6" y2="431.82" stroke="#1a1a1a" stroke-width="1.1" />
<line x1="397.6" y1="431.82" x2="393" y2="431.82" stroke="#1a1a1a" stroke-width="1.1" />
<text x="57.6" y="436.72" font-size="14" text-anchor="end" fill="#1a1a1a" >4</text>
<line x1="64" y1="412.66" x2="66.9" y2="412.66" stroke="#1a1a1a" stroke-width="1.1" />
<line x1="397.6" y1="412.66" x2="394.7" y2="412.66" stroke="#1a1a1a" stroke-width="1.1" />
<line x1="64" y1="393.5" x2="68.6" y2="393.5" stroke="#1a1a1a" stroke-width="1.1" />
<line x1="397.6" y1="393.5" x2="393" y2="393.5" stroke="#1a1a1a" stroke-width="1.1" />
<text x="57.6" y="398.4" font-size="14" text-anchor="end" fill="#1a1a1a" >5</text>
<line x1="64" y1="374.34" x2="66.9" y2="374.34" stroke="#1a1a1a" stroke-width="1.1" />
<line x1="397.6" y1="374.34" x2="394.7" y2="374.34" stroke="#1a1a1a" stroke-width="1.1" />
<line x1="64" y1="355.18" x2="68.6" y2="355.18" stroke="#1a1a1a" stroke-width="1.1" />
<line x1="397.6" y1="355.18" x2="393" y2="355.18" stroke="#1a1a1a" stroke-width="1.1" />
<text x="57.6" y="360.08" font-size="14" text-anchor="end" fill="#1a1a1a" >6</text>
<path d="M59.5 585.8a4 4 0 1 0 8 0a4 4 0 1 0 -8 0z" fill="#ee3030" stroke="#ee3030" stroke-width="0"/>
<path d="M60.4 582h7.2v7.2h-7.2zM61.99 581.79h7.2v7.2h-7.2zM63.53 581.49h7.2v7.2h-7.2zM64.73 580.43h7.2v7.2h-7.2zM65.92 579.36h7.2v7.2h-7.2zM66.65 577.94h7.2v7.2h-7.2zM67.37 576.51h7.2v7.2h-7.2zM68.1 575.09h7.2v7.2h-7.2zM68.83 573.66h7.2v7.2h-7.2zM69.56 572.24h7.2v7.2h-7.2zM70.28 570.81h7.2v7.2h-7.2zM71.03 569.39h7.2v7.2h-7.2zM71.79 567.99h7.2v7.2h-7.2zM72.55 566.58h7.2v7.2h-7.2zM73.31 565.17h7.2v7.2h-7.2zM74.08 563.77h7.2v7.2h-7.2zM74.82 562.35h7.2v7.2h-7.2zM75.51 560.91h7.2v7.2h-7.2zM76.2 559.46h7.2v7.2h-7.2zM76.9 558.02h7.2v7.2h-7.2zM77.59 556.58h7.2v7.2h-7.2zM78.28 555.14h7.2v7.2h-7.2zM78.97 553.7h7.2v7.2h-7.2zM79.67 552.25h7.2v7.2h-7.2zM80.36 550.81h7.2v7.2h-7.2zM81.05 549.37h7.2v7.2h-7.2zM81.75 547.93h7.2v7.2h-7.2zM82.44 546.49h7.2v7.2h-7.2zM83.13 545.04h7.2v7.2h-7.2zM83.64 543.53h7.2v7.2h-7.2zM84.13 542h7.2v7.2h-7.2zM84.61 540.48h7.2v7.2h-7.2zM85.1 538.95h7.2v7.2h-7.2zM85.59 537.43h7.2v7.2h-7.2zM86.07 535.91h7.2v7.2h-7.2zM86.56 534.38h7.2v7.2h-7.2zM87.05 532.86h7.2v7.2h-7.2zM87.53 531.33h7.2v7.2h-7.2zM88.02 529.81h7.2v7.2h-7.2zM88.51 528.29h7.2v7.2h-7.2zM90.3 520.9h7.2v7.2h-7.2zM92.2 513.73h7.2v7.2h-7.2zM94.1 505.4h7.2v7.2h-7.2zM96 498.46h7.2v7.2h-7.2zM97.9 492.43h7.2v7.2h-7.2zM99.8 489.18h7.2v7.2h-7.2zM101.7 486.86h7.2v7.2h-7.2zM103.6 484.7h7.2v7.2h-7.2zM105.5 482.59h7.2v7.2h-7.2zM107.4 480.57h7.2v7.2h-7.2zM109.3 479.33h7.2v7.2h-7.2zM111.2 478.08h7.2v7.2h-7.2zM113.1 476.87h7.2v7.2h-7.2zM115 475.78h7.2v7.2h-7.2zM116.9 474.69h7.2v7.2h-7.2zM118.8 473.92h7.2v7.2h-7.2zM120.7 473.28h7.2v7.2h-7.2zM122.6 472.66h7.2v7.2h-7.2zM124.5 472.32h7.2v7.2h-7.2zM126.4 471.97h7.2v7.2h-7.2zM128.3 471.62h7.2v7.2h-7.2zM130.2 471.27h7.2v7.2h-7.2zM132.1 470.98h7.2v7.2h-7.2zM134 470.88h7.2v7.2h-7.2zM135.9 470.78h7.2v7.2h-7.2zM137.8 470.68h7.2v7.2h-7.2zM139.7 470.57h7.2v7.2h-7.2zM141.6 470.47h7.2v7.2h-7.2zM143.5 470.37h7.2v7.2h-7.2zM145.4 470.27h7.2v7.2h-7.2zM147.3 470.17h7.2v7.2h-7.2zM149.2 470.1h7.2v7.2h-7.2zM151.1 470.09h7.2v7.2h-7.2zM153 470.09h7.2v7.2h-7.2zM154.9 470.09h7.2v7.2h-7.2zM156.8 470.08h7.2v7.2h-7.2zM158.7 470.08h7.2v7.2h-7.2zM160.6 470.07h7.2v7.2h-7.2zM162.5 470.07h7.2v7.2h-7.2zM164.4 470.07h7.2v7.2h-7.2zM166.3 470.06h7.2v7.2h-7.2zM168.2 470.06h7.2v7.2h-7.2zM170.1 470.05h7.2v7.2h-7.2zM172 470.05h7.2v7.2h-7.2zM173.9 470.05h7.2v7.2h-7.2zM175.8 470.04h7.2v7.2h-7.2zM177.7 470.04h7.2v7.2h-7.2zM179.6 470.03h7.2v7.2h-7.2zM181.5 470.03h7.2v7.2h-7.2zM183.4 470.03h7.2v7.2h-7.2zM185.3 470.02h7.2v7.2h-7.2zM187.2 470.02h7.2v7.2h-7.2zM189.1 470.01h7.2v7.2h-7.2zM191 470.01h7.2v7.2h-7.2zM192.9 470.01h7.2v7.2h-7.2zM194.8 470h7.2v7.2h-7.2z" fill="#141414" stroke="#141414" stroke-width="0"/>
<path d="M75.3 584.2a4.1 4.1 0 1 0 8.2 0a4.1 4.1 0 1 0 -8.2 0zM77.3 583.52a4.1 4.1 0 1 0 8.2 0a4.1 4.1 0 1 0 -8.2 0zM79.3 582.83a4.1 4.1 0 1 0 8.2 0a4.1 4.1 0 1 0 -8.2 0zM81.3 582.15a4.1 4.1 0 1 0 8.2 0a4.1 4.1 0 1 0 -8.2 0zM83.3 581.4a4.1 4.1 0 1 0 8.2 0a4.1 4.1 0 1 0 -8.2 0zM85.3 580.4a4.1 4.1 0 1 0 8.2 0a4.1 4.1 0 1 0 -8.2 0zM87.3 579.4a4.1 4.1 0 1 0 8.2 0a4.1 4.1 0 1 0 -8.2 0zM89.3 578.4a4.1 4.1 0 1 0 8.2 0a4.1 4.1 0 1 0 -8.2 0zM91.3 576.98a4.1 4.1 0 1 0 8.2 0a4.1 4.1 0 1 0 -8.2 0zM93.3 575.38a4.1 4.1 0 1 0 8.2 0a4.1 4.1 0 1 0 -8.2 0zM95.3 573.78a4.1 4.1 0 1 0 8.2 0a4.1 4.1 0 1 0 -8.2 0zM97.3 572.18a4.1 4.1 0 1 0 8.2 0a4.1 4.1 0 1 0 -8.2 0zM99.3 570.58a4.1 4.1 0 1 0 8.2 0a4.1 4.1 0 1 0 -8.2 0zM101.3 568.98a4.1 4.1 0 1 0 8.2 0a4.1 4.1 0 1 0 -8.2 0zM103.3 567.24a4.1 4.1 0 1 0 8.2 0a4.1 4.1 0 1 0 -8.2 0zM105.3 565.44a4.1 4.1 0 1 0 8.2 0a4.1 4.1 0 1 0 -8.2 0zM107.3 563.64a4.1 4.1 0 1 0 8.2 0a4.1 4.1 0 1 0 -8.2 0zM109.3 561.84a4.1 4.1 0 1 0 8.2 0a4.1 4.1 0 1 0 -8.2 0zM111.3 560.04a4.1 4.1 0 1 0 8.2 0a4.1 4.1 0 1 0 -8.2 0zM113.3 558.24a4.1 4.1 0 1 0 8.2 0a4.1 4.1 0 1 0 -8.2 0zM115.3 556.59a4.1 4.1 0 1 0 8.2 0a4.1 4.1 0 1 0 -8.2 0zM117.3 555a4.1 4.1 0 1 0 8.2 0a4.1 4.1 0 1 0 -8.2 0zM119.3 553.42a4.1 4.1 0 1 0 8.2 0a4.1 4.1 0 1 0 -8.2 0zM121.3 551.83a4.1 4.1 0 1 0 8.2 0a4.1 4.1 0 1 0 -8.2 0zM123.3 550.24a4.1 4.1 0 1 0 8.2 0a4.1 4.1 0 1 0 -8.2 0zM125.3 548.66a4.1 4.1 0 1 0 8.2 0a4.1 4.1 0 1 0 -8.2 0zM127.3 547.06a4.1 4.1 0 1 0 8.2 0a4.1 4.1 0 1 0 -8.2 0zM129.3 545.46a4.1 4.1 0 1 0 8.2 0a4.1 4.1 0 1 0 -8.2 0zM131.3 543.86a4.1 4.1 0 1 0 8.2 0a4.1 4.1 0 1 0 -8.2 0zM133.3 542.26a4.1 4.1 0 1 0 8.2 0a4.1 4.1 0 1 0 -8.2 0zM135.3 540.66a4.1 4.1 0 1 0 8.2 0a4.1 4.1 0 1 0 -8.2 0zM137.3 539.06a4.1 4.1 0 1 0 8.2 0a4.1 4.1 0 1 0 -8.2 0zM139.3 537.58a4.1 4.1 0 1 0 8.2 0a4.1 4.1 0 1 0 -8.2 0zM141.3 536.16a4.1 4.1 0 1 0 8.2 0a4.1 4.1 0 1 0 -8.2 0zM143.3 534.75a4.1 4.1 0 1 0 8.2 0a4.1 4.1 0 1 0 -8.2 0zM145.3 533.33a4.1 4.1 0 1 0 8.2 0a4.1 4.1 0 1 0 -8.2 0zM147.3 531.91a4.1 4.1 0 1 0 8.2 0a4.1 4.1 0 1 0 -8.2 0zM149.3 530.5a4.1 4.1 0 1 0 8.2 0a4.1 4.1 0 1 0 -8.2 0zM151.3 529.15a4.1 4.1 0 1 0 8.2 0a4.1 4.1 0 1 0 -8.2 0zM153.3 527.85a4.1 4.1 0 1 0 8.2 0a4.1 4.1 0 1 0 -8.2 0zM155.3 526.54a4.1 4.1 0 1 0 8.2 0a4.1 4.1 0 1 0 -8.2 0zM157.3 525.23a4.1 4.1 0 1 0 8.2 0a4.1 4.1 0 1 0 -8.2 0zM159.3 523.93a4.1 4.1 0 1 0 8.2 0a4.1 4.1 0 1 0 -8.2 0zM161.3 522.62a4.1 4.1 0 1 0 8.2 0a4.1 4.1 0 1 0 -8.2 0zM163.3 521.26a4.1 4.1 0 1 0 8.2 0a4.1 4.1 0 1 0 -8.2 0zM165.3 519.87a4.1 4.1 0 1 0 8.2 0a4.1 4.1 0 1 0 -8.2 0zM167.3 518.47a4.1 4.1 0 1 0 8.2 0a4.1 4.1 0 1 0 -8.2 0zM169.3 517.08a4.1 4.1 0 1 0 8.2 0a4.1 4.1 0 1 0 -8.2 0zM171.3 515.68a4.1 4.1 0 1 0 8.2 0a4.1 4.1 0 1 0 -8.2 0zM173.3 514.29a4.1 4.1 0 1 0 8.2 0a4.1 4.1 0 1 0 -8.2 0zM175.3 512.89a4.1 4.1 0 1 0 8.2 0a4.1 4.1 0 1 0 -8.2 0zM177.3 511.53a4.1 4.1 0 1 0 8.2 0a4.1 4.1 0 1 0 -8.2 0zM179.3 510.61a4.1 4.1 0 1 0 8.2 0a4.1 4.1 0 1 0 -8.2 0zM181.3 509.69a4.1 4.1 0 1 0 8.2 0a4.1 4.1 0 1 0 -8.2 0zM183.3 508.77a4.1 4.1 0 1 0 8.2 0a4.1 4.1 0 1 0 -8.2 0zM185.3 507.85a4.1 4.1 0 1 0 8.2 0a4.1 4.1 0 1 0 -8.2 0zM187.3 506.93a4.1 4.1 0 1 0 8.2 0a4.1 4.1 0 1 0 -8.2 0zM189.3 506.01a4.1 4.1 0 1 0 8.2 0a4.1 4.1 0 1 0 -8.2 0zM191.3 505.09a4.1 4.1 0 1 0 8.2 0a4.1 4.1 0 1 0 -8.2 0zM196.3 503.19a4.1 4.1 0 1 0 8.2 0a4.1 4.1 0 1 0 -8.2 0zM201.3 501.46a4.1 4.1 0 1 0 8.2 0a4.1 4.1 0 1 0 -8.2 0zM206.3 499.73a4.1 4.1 0 1 0 8.2 0a4.1 4.1 0 1 0 -8.2 0zM211.3 498.26a4.1 4.1 0 1 0 8.2 0a4.1 4.1 0 1 0 -8.2 0zM216.3 496.97a4.1 4.1 0 1 0 8.2 0a4.1 4.1 0 1 0 -8.2 0zM221.3 495.69a4.1 4.1 0 1 0 8.2 0a4.1 4.1 0 1 0 -8.2 0zM226.3 494.59a4.1 4.1 0 1 0 8.2 0a4.1 4.1 0 1 0 -8.2 0zM231.3 493.69a4.1 4.1 0 1 0 8.2 0a4.1 4.1 0 1 0 -8.2 0zM236.3 492.8a4.1 4.1 0 1 0 8.2 0a4.1 4.1 0 1 0 -8.2 0zM241.3 491.99a4.1 4.1 0 1 0 8.2 0a4.1 4.1 0 1 0 -8.2 0zM246.3 491.35a4.1 4.1 0 1 0 8.2 0a4.1 4.1 0 1 0 -8.2 0zM251.3 490.71a4.1 4.1 0 1 0 8.2 0a4.1 4.1 0 1 0 -8.2 0zM256.3 490.08a4.1 4.1 0 1 0 8.2 0a4.1 4.1 0 1 0 -8.2 0zM261.3 489.51a4.1 4.1 0 1 0 8.2 0a4.1 4.1 0 1 0 -8.2 0zM266.3 488.93a4.1 4.1 0 1 0 8.2 0a4.1 4.1 0 1 0 -8.2 0zM271.3 488.35a4.1 4.1 0 1 0 8.2 0a4.1 4.1 0 1 0 -8.2 0zM276.3 487.7a4.1 4.1 0 1 0 8.2 0a4.1 4.1 0 1 0 -8.2 0zM281.3 487.05a4.1 4.1 0 1 0 8.2 0a4.1 4.1 0 1 0 -8.2 0zM286.3 486.41a4.1 4.1 0 1 0 8.2 0a4.1 4.1 0 1 0 -8.2 0zM291.3 485.76a4.1 4.1 0 1 0 8.2 0a4.1 4.1 0 1 0 -8.2 0zM296.3 485.11a4.1 4.1 0 1 0 8.2 0a4.1 4.1 0 1 0 -8.2 0zM301.3 484.67a4.1 4.1 0 1 0 8.2 0a4.1 4.1 0 1 0 -8.2 0zM306.3 484.27a4.1 4.1 0 1 0 8.2 0a4.1 4.1 0 1 0 -8.2 0zM311.3 483.87a4.1 4.1 0 1 0 8.2 0a4.1 4.1 0 1 0 -8.2 0zM316.3 483.47a4.1 4.1 0 1 0 8.2 0a4.1 4.1 0 1 0 -8.2 0zM321.3 483.07a4.1 4.1 0 1 0 8.2 0a4.1 4.1 0 1 0 -8.2 0zM326.3 482.67a4.1 4.1 0 1 0 8.2 0a4.1 4.1 0 1 0 -8.2 0zM331.3 482.34a4.1 4.1 0 1 0 8.2 0a4.1 4.1 0 1 0 -8.2 0zM336.3 482.07a4.1 4.1 0 1 0 8.2 0a4.1 4.1 0 1 0 -8.2 0zM341.3 481.8a4.1 4.1 0 1 0 8.2 0a4.1 4.1 0 1 0 -8.2 0zM346.3 481.53a4.1 4.1 0 1 0 8.2 0a4.1 4.1 0 1 0 -8.2 0zM351.3 481.25a4.1 4.1 0 1 0 8.2 0a4.1 4.1 0 1 0 -8.2 0zM356.3 480.98a4.1 4.1 0 1 0 8.2 0a4.1 4.1 0 1 0 -8.2 0zM361.3 480.71a4.1 4.1 0 1 0 8.2 0a4.1 4.1 0 1 0 -8.2 0zM366.3 480.45a4.1 4.1 0 1 0 8.2 0a4.1 4.1 0 1 0 -8.2 0zM371.3 480.19a4.1 4.1 0 1 0 8.2 0a4.1 4.1 0 1 0 -8.2 0zM376.3 479.93a4.1 4.1 0 1 0 8.2 0a4.1 4.1 0 1 0 -8.2 0zM381.3 479.66a4.1 4.1 0 1 0 8.2 0a4.1 4.1 0 1 0 -8.2 0zM386.3 479.4a4.1 4.1 0 1 0 8.2 0a4.1 4.1 0 1 0 -8.2 0z" fill="#ee3030" stroke="#ee3030" stroke-width="0"/>
<path d="M62.8 364.55h9M77.6 364.55h9M92.3 364.55h9M107.1 364.55h9M121.8 364.55h9M136.7 364.55h9.5M155.28 364.55h9.5M173.87 364.55h9.5M192.45 364.55h9.5M211.04 364.55h9.5M229.62 364.55h9.5M248.21 364.55h9.5M266.79 364.55h9.5M285.38 364.55h9.5M303.97 364.55h9.5M322.55 364.55h9.5M341.13 364.55h9.5M359.72 364.55h9.5M378.31 364.55h9.5" fill="none" stroke="#111" stroke-width="2.0"/>
<text x="69.6" y="359" font-size="28" text-anchor="start" fill="#1a1a1a" >(b)</text>
<text x="140.3" y="390.2" font-size="22.4" text-anchor="start" fill="#1a1a1a" >Rln2</text>
<text transform="translate(40.2,552.2) rotate(-90)" font-size="22.7" fill="#1a1a1a" textLength="162.8" lengthAdjust="spacing">S ( J/mol Cu K )</text>
<text x="197.4" y="648.8" font-size="22.2" text-anchor="start" fill="#1a1a1a" >T ( K )</text>
<path d="M276.1 538.2h7.4v7.4h-7.4z" fill="#141414" stroke="#141414" stroke-width="0"/>
<path d="M275.7 563.2a4.1 4.1 0 1 0 8.2 0a4.1 4.1 0 1 0 -8.2 0z" fill="#ee3030" stroke="#ee3030" stroke-width="0"/>
<text x="300" y="548" font-size="17.3" text-anchor="start" fill="#1a1a1a" >0</text>
<text x="324.2" y="548" font-size="17.3" text-anchor="start" fill="#1a1a1a" >kOe</text>
<text x="300" y="569.2" font-size="17.3" text-anchor="start" fill="#1a1a1a" >90 kOe</text>
</svg>
</body>
</html>
